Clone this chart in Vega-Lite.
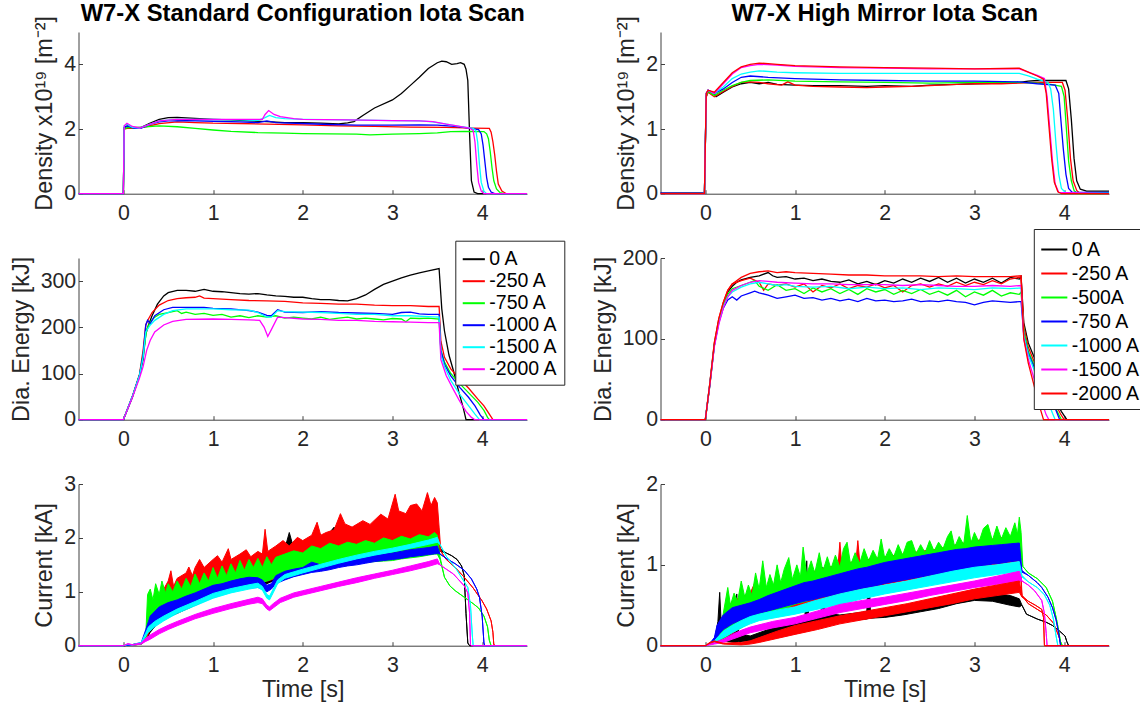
{
"$schema":"https://vega.github.io/schema/vega-lite/v6.json",
"background":"white",
"autosize":{"type":"none"},
"padding":{"left":78.5,"top":32,"right":1061.5,"bottom":681},
"config":{
 "font":"Liberation Sans",
 "view":{"stroke":null},
 "axis":{"domainColor":"#404040","tickColor":"#404040","labelColor":"#262626","titleColor":"#262626","labelFontSize":21.3,"titleFontSize":23.4,"titleFontWeight":"normal","grid":false,"tickSize":-4,"labelFont":"Liberation Sans","titleFont":"Liberation Sans","labelFlush":false,"format":"d"},
 "axisX":{"labelPadding":12.5,"titlePadding":3},
 "axisY":{"labelPadding":6.8,"titlePadding":7},
 "title":{"fontSize":23.8,"fontWeight":"bold","color":"#000000","font":"Liberation Sans","offset":-10,"baseline":"alphabetic","anchor":"middle","frame":"group"},
 "legend":{"orient":"none","title":null,"symbolType":"stroke","symbolSize":680,"symbolStrokeWidth":2,"labelFontSize":19.5,"labelColor":"#000000","labelFont":"Liberation Sans","strokeColor":"#262626","fillColor":"#ffffff","padding":6,"rowPadding":0,"labelOffset":3}
},
"columns":2,
"spacing":{"row":64,"column":133},
"bounds":"flush",
"resolve":{"scale":{"x":"independent","y":"independent","color":"independent","fill":"independent","stroke":"independent"},"legend":{"color":"independent","fill":"independent","stroke":"independent"}},
"datasets":{
"dl":[
{"s":"0 A","t":-0.5,"v":0},{"s":"0 A","t":0,"v":0},{"s":"0 A","t":0.01,"v":2.05},{"s":"0 A","t":0.05,"v":2.1},{"s":"0 A","t":0.12,"v":2.05},{"s":"0 A","t":0.2,"v":2.05},{"s":"0 A","t":0.3,"v":2.18},{"s":"0 A","t":0.4,"v":2.3},{"s":"0 A","t":0.5,"v":2.35},{"s":"0 A","t":0.6,"v":2.36},{"s":"0 A","t":0.8,"v":2.33},{"s":"0 A","t":1.0,"v":2.3},{"s":"0 A","t":1.2,"v":2.28},{"s":"0 A","t":1.4,"v":2.25},{"s":"0 A","t":1.6,"v":2.23},{"s":"0 A","t":1.8,"v":2.2},{"s":"0 A","t":2.0,"v":2.2},{"s":"0 A","t":2.2,"v":2.18},{"s":"0 A","t":2.4,"v":2.16},{"s":"0 A","t":2.5,"v":2.19},{"s":"0 A","t":2.57,"v":2.23},{"s":"0 A","t":2.67,"v":2.42},{"s":"0 A","t":2.8,"v":2.65},{"s":"0 A","t":3.0,"v":2.9},{"s":"0 A","t":3.1,"v":3.1},{"s":"0 A","t":3.2,"v":3.35},{"s":"0 A","t":3.3,"v":3.6},{"s":"0 A","t":3.4,"v":3.87},{"s":"0 A","t":3.5,"v":4.05},{"s":"0 A","t":3.55,"v":4.1},{"s":"0 A","t":3.6,"v":4.08},{"s":"0 A","t":3.66,"v":4.0},{"s":"0 A","t":3.72,"v":4.02},{"s":"0 A","t":3.76,"v":4.05},{"s":"0 A","t":3.8,"v":4.0},{"s":"0 A","t":3.82,"v":3.85},{"s":"0 A","t":3.84,"v":3.5},{"s":"0 A","t":3.86,"v":1.85},{"s":"0 A","t":3.88,"v":0.4},{"s":"0 A","t":3.91,"v":0.05},{"s":"0 A","t":3.95,"v":0},{"s":"0 A","t":4.5,"v":0},
{"s":"-250 A","t":-0.5,"v":0},{"s":"-250 A","t":0,"v":0},{"s":"-250 A","t":0.01,"v":2.0},{"s":"-250 A","t":0.05,"v":2.03},{"s":"-250 A","t":0.15,"v":2.02},{"s":"-250 A","t":0.25,"v":2.07},{"s":"-250 A","t":0.4,"v":2.17},{"s":"-250 A","t":0.6,"v":2.22},{"s":"-250 A","t":0.8,"v":2.2},{"s":"-250 A","t":1.0,"v":2.18},{"s":"-250 A","t":1.3,"v":2.17},{"s":"-250 A","t":1.6,"v":2.15},{"s":"-250 A","t":2.0,"v":2.13},{"s":"-250 A","t":2.4,"v":2.1},{"s":"-250 A","t":2.8,"v":2.08},{"s":"-250 A","t":3.2,"v":2.06},{"s":"-250 A","t":3.6,"v":2.05},{"s":"-250 A","t":3.9,"v":2.03},{"s":"-250 A","t":4.08,"v":2.02},{"s":"-250 A","t":4.1,"v":1.9},{"s":"-250 A","t":4.12,"v":1.6},{"s":"-250 A","t":4.14,"v":1.2},{"s":"-250 A","t":4.16,"v":0.7},{"s":"-250 A","t":4.18,"v":0.3},{"s":"-250 A","t":4.22,"v":0.08},{"s":"-250 A","t":4.27,"v":0},{"s":"-250 A","t":4.5,"v":0},
{"s":"-750 A","t":-0.5,"v":0},{"s":"-750 A","t":0,"v":0},{"s":"-750 A","t":0.01,"v":2.0},{"s":"-750 A","t":0.05,"v":2.05},{"s":"-750 A","t":0.15,"v":2.03},{"s":"-750 A","t":0.25,"v":2.07},{"s":"-750 A","t":0.4,"v":2.1},{"s":"-750 A","t":0.6,"v":2.07},{"s":"-750 A","t":0.8,"v":2.02},{"s":"-750 A","t":1.0,"v":1.97},{"s":"-750 A","t":1.2,"v":1.93},{"s":"-750 A","t":1.5,"v":1.89},{"s":"-750 A","t":1.8,"v":1.87},{"s":"-750 A","t":2.0,"v":1.86},{"s":"-750 A","t":2.3,"v":1.85},{"s":"-750 A","t":2.6,"v":1.84},{"s":"-750 A","t":2.75,"v":1.82},{"s":"-750 A","t":3.0,"v":1.84},{"s":"-750 A","t":3.3,"v":1.86},{"s":"-750 A","t":3.5,"v":1.88},{"s":"-750 A","t":3.65,"v":1.92},{"s":"-750 A","t":3.8,"v":1.93},{"s":"-750 A","t":4.02,"v":1.92},{"s":"-750 A","t":4.05,"v":1.85},{"s":"-750 A","t":4.07,"v":1.7},{"s":"-750 A","t":4.09,"v":1.3},{"s":"-750 A","t":4.11,"v":0.8},{"s":"-750 A","t":4.13,"v":0.4},{"s":"-750 A","t":4.16,"v":0.15},{"s":"-750 A","t":4.2,"v":0.03},{"s":"-750 A","t":4.25,"v":0},{"s":"-750 A","t":4.5,"v":0},
{"s":"-1000 A","t":-0.5,"v":0},{"s":"-1000 A","t":0,"v":0},{"s":"-1000 A","t":0.01,"v":2.05},{"s":"-1000 A","t":0.05,"v":2.1},{"s":"-1000 A","t":0.12,"v":2.02},{"s":"-1000 A","t":0.2,"v":2.03},{"s":"-1000 A","t":0.3,"v":2.15},{"s":"-1000 A","t":0.4,"v":2.22},{"s":"-1000 A","t":0.5,"v":2.25},{"s":"-1000 A","t":0.7,"v":2.26},{"s":"-1000 A","t":1.0,"v":2.24},{"s":"-1000 A","t":1.3,"v":2.22},{"s":"-1000 A","t":1.5,"v":2.2},{"s":"-1000 A","t":1.6,"v":2.25},{"s":"-1000 A","t":1.7,"v":2.2},{"s":"-1000 A","t":2.0,"v":2.17},{"s":"-1000 A","t":2.3,"v":2.14},{"s":"-1000 A","t":2.6,"v":2.12},{"s":"-1000 A","t":3.0,"v":2.12},{"s":"-1000 A","t":3.3,"v":2.13},{"s":"-1000 A","t":3.5,"v":2.12},{"s":"-1000 A","t":3.7,"v":2.08},{"s":"-1000 A","t":3.85,"v":2.03},{"s":"-1000 A","t":3.96,"v":1.98},{"s":"-1000 A","t":3.99,"v":1.85},{"s":"-1000 A","t":4.01,"v":1.5},{"s":"-1000 A","t":4.03,"v":1.0},{"s":"-1000 A","t":4.05,"v":0.5},{"s":"-1000 A","t":4.07,"v":0.2},{"s":"-1000 A","t":4.1,"v":0.05},{"s":"-1000 A","t":4.14,"v":0},{"s":"-1000 A","t":4.5,"v":0},
{"s":"-1500 A","t":-0.5,"v":0},{"s":"-1500 A","t":0,"v":0},{"s":"-1500 A","t":0.01,"v":2.1},{"s":"-1500 A","t":0.04,"v":2.15},{"s":"-1500 A","t":0.1,"v":2.05},{"s":"-1500 A","t":0.18,"v":2.03},{"s":"-1500 A","t":0.3,"v":2.15},{"s":"-1500 A","t":0.4,"v":2.25},{"s":"-1500 A","t":0.6,"v":2.3},{"s":"-1500 A","t":1.0,"v":2.3},{"s":"-1500 A","t":1.3,"v":2.28},{"s":"-1500 A","t":1.5,"v":2.27},{"s":"-1500 A","t":1.58,"v":2.35},{"s":"-1500 A","t":1.63,"v":2.42},{"s":"-1500 A","t":1.7,"v":2.35},{"s":"-1500 A","t":1.8,"v":2.32},{"s":"-1500 A","t":2.0,"v":2.3},{"s":"-1500 A","t":2.5,"v":2.28},{"s":"-1500 A","t":3.0,"v":2.26},{"s":"-1500 A","t":3.3,"v":2.25},{"s":"-1500 A","t":3.45,"v":2.22},{"s":"-1500 A","t":3.6,"v":2.15},{"s":"-1500 A","t":3.75,"v":2.08},{"s":"-1500 A","t":3.9,"v":2.02},{"s":"-1500 A","t":3.93,"v":1.95},{"s":"-1500 A","t":3.95,"v":1.6},{"s":"-1500 A","t":3.97,"v":0.9},{"s":"-1500 A","t":3.99,"v":0.35},{"s":"-1500 A","t":4.02,"v":0.08},{"s":"-1500 A","t":4.05,"v":0},{"s":"-1500 A","t":4.5,"v":0},
{"s":"-2000 A","t":-0.5,"v":0},{"s":"-2000 A","t":0,"v":0},{"s":"-2000 A","t":0.01,"v":2.1},{"s":"-2000 A","t":0.04,"v":2.18},{"s":"-2000 A","t":0.1,"v":2.08},{"s":"-2000 A","t":0.18,"v":2.03},{"s":"-2000 A","t":0.3,"v":2.15},{"s":"-2000 A","t":0.4,"v":2.25},{"s":"-2000 A","t":0.6,"v":2.3},{"s":"-2000 A","t":1.0,"v":2.3},{"s":"-2000 A","t":1.3,"v":2.3},{"s":"-2000 A","t":1.55,"v":2.3},{"s":"-2000 A","t":1.58,"v":2.45},{"s":"-2000 A","t":1.62,"v":2.57},{"s":"-2000 A","t":1.68,"v":2.45},{"s":"-2000 A","t":1.75,"v":2.38},{"s":"-2000 A","t":1.9,"v":2.32},{"s":"-2000 A","t":2.0,"v":2.3},{"s":"-2000 A","t":2.5,"v":2.28},{"s":"-2000 A","t":3.0,"v":2.26},{"s":"-2000 A","t":3.3,"v":2.25},{"s":"-2000 A","t":3.45,"v":2.23},{"s":"-2000 A","t":3.6,"v":2.15},{"s":"-2000 A","t":3.75,"v":2.08},{"s":"-2000 A","t":3.87,"v":2.02},{"s":"-2000 A","t":3.9,"v":1.95},{"s":"-2000 A","t":3.92,"v":1.6},{"s":"-2000 A","t":3.94,"v":0.9},{"s":"-2000 A","t":3.96,"v":0.35},{"s":"-2000 A","t":3.99,"v":0.08},{"s":"-2000 A","t":4.02,"v":0},{"s":"-2000 A","t":4.5,"v":0}
],
"dr":[
{"s":"0 A","t":-0.5,"v":0.01},{"s":"0 A","t":-0.01,"v":0.01},{"s":"0 A","t":0.01,"v":1.5},{"s":"0 A","t":0.03,"v":1.58},{"s":"0 A","t":0.08,"v":1.57},{"s":"0 A","t":0.12,"v":1.5},{"s":"0 A","t":0.2,"v":1.57},{"s":"0 A","t":0.3,"v":1.65},{"s":"0 A","t":0.4,"v":1.7},{"s":"0 A","t":0.5,"v":1.72},{"s":"0 A","t":0.6,"v":1.7},{"s":"0 A","t":0.7,"v":1.72},{"s":"0 A","t":0.8,"v":1.69},{"s":"0 A","t":1.0,"v":1.68},{"s":"0 A","t":1.2,"v":1.67},{"s":"0 A","t":1.5,"v":1.67},{"s":"0 A","t":1.8,"v":1.66},{"s":"0 A","t":2.0,"v":1.67},{"s":"0 A","t":2.3,"v":1.66},{"s":"0 A","t":2.5,"v":1.68},{"s":"0 A","t":2.8,"v":1.69},{"s":"0 A","t":3.0,"v":1.7},{"s":"0 A","t":3.3,"v":1.71},{"s":"0 A","t":3.5,"v":1.72},{"s":"0 A","t":3.6,"v":1.74},{"s":"0 A","t":3.7,"v":1.75},{"s":"0 A","t":4.02,"v":1.75},{"s":"0 A","t":4.05,"v":1.62},{"s":"0 A","t":4.08,"v":1.15},{"s":"0 A","t":4.11,"v":0.55},{"s":"0 A","t":4.14,"v":0.2},{"s":"0 A","t":4.18,"v":0.07},{"s":"0 A","t":4.25,"v":0.04},{"s":"0 A","t":4.5,"v":0.04},
{"s":"-250 A","t":-0.5,"v":0},{"s":"-250 A","t":-0.01,"v":0.01},{"s":"-250 A","t":0.01,"v":1.5},{"s":"-250 A","t":0.03,"v":1.57},{"s":"-250 A","t":0.1,"v":1.5},{"s":"-250 A","t":0.2,"v":1.58},{"s":"-250 A","t":0.3,"v":1.66},{"s":"-250 A","t":0.4,"v":1.72},{"s":"-250 A","t":0.5,"v":1.73},{"s":"-250 A","t":0.6,"v":1.72},{"s":"-250 A","t":0.7,"v":1.7},{"s":"-250 A","t":0.85,"v":1.68},{"s":"-250 A","t":0.92,"v":1.73},{"s":"-250 A","t":1.0,"v":1.68},{"s":"-250 A","t":1.2,"v":1.66},{"s":"-250 A","t":1.5,"v":1.65},{"s":"-250 A","t":1.8,"v":1.64},{"s":"-250 A","t":2.0,"v":1.65},{"s":"-250 A","t":2.3,"v":1.66},{"s":"-250 A","t":2.5,"v":1.67},{"s":"-250 A","t":2.8,"v":1.69},{"s":"-250 A","t":3.0,"v":1.7},{"s":"-250 A","t":3.3,"v":1.7},{"s":"-250 A","t":3.5,"v":1.71},{"s":"-250 A","t":3.7,"v":1.72},{"s":"-250 A","t":3.98,"v":1.72},{"s":"-250 A","t":4.01,"v":1.6},{"s":"-250 A","t":4.04,"v":1.15},{"s":"-250 A","t":4.07,"v":0.55},{"s":"-250 A","t":4.1,"v":0.2},{"s":"-250 A","t":4.14,"v":0.05},{"s":"-250 A","t":4.18,"v":0},{"s":"-250 A","t":4.5,"v":0},
{"s":"-500A","t":-0.5,"v":0},{"s":"-500A","t":-0.01,"v":0.01},{"s":"-500A","t":0.01,"v":1.52},{"s":"-500A","t":0.03,"v":1.58},{"s":"-500A","t":0.1,"v":1.52},{"s":"-500A","t":0.2,"v":1.6},{"s":"-500A","t":0.3,"v":1.67},{"s":"-500A","t":0.4,"v":1.72},{"s":"-500A","t":0.5,"v":1.75},{"s":"-500A","t":0.7,"v":1.76},{"s":"-500A","t":1.0,"v":1.74},{"s":"-500A","t":1.5,"v":1.73},{"s":"-500A","t":2.0,"v":1.72},{"s":"-500A","t":2.5,"v":1.71},{"s":"-500A","t":3.0,"v":1.72},{"s":"-500A","t":3.5,"v":1.72},{"s":"-500A","t":3.7,"v":1.71},{"s":"-500A","t":3.85,"v":1.69},{"s":"-500A","t":3.97,"v":1.66},{"s":"-500A","t":4.0,"v":1.5},{"s":"-500A","t":4.02,"v":1.1},{"s":"-500A","t":4.05,"v":0.5},{"s":"-500A","t":4.08,"v":0.2},{"s":"-500A","t":4.11,"v":0.05},{"s":"-500A","t":4.15,"v":0},{"s":"-500A","t":4.5,"v":0},
{"s":"-750 A","t":-0.5,"v":0.01},{"s":"-750 A","t":-0.01,"v":0.01},{"s":"-750 A","t":0.01,"v":1.55},{"s":"-750 A","t":0.03,"v":1.6},{"s":"-750 A","t":0.1,"v":1.55},{"s":"-750 A","t":0.2,"v":1.62},{"s":"-750 A","t":0.3,"v":1.72},{"s":"-750 A","t":0.4,"v":1.8},{"s":"-750 A","t":0.5,"v":1.82},{"s":"-750 A","t":0.7,"v":1.8},{"s":"-750 A","t":1.0,"v":1.78},{"s":"-750 A","t":1.5,"v":1.76},{"s":"-750 A","t":2.0,"v":1.75},{"s":"-750 A","t":2.5,"v":1.74},{"s":"-750 A","t":3.0,"v":1.74},{"s":"-750 A","t":3.5,"v":1.73},{"s":"-750 A","t":3.7,"v":1.7},{"s":"-750 A","t":3.9,"v":1.68},{"s":"-750 A","t":3.94,"v":1.55},{"s":"-750 A","t":3.96,"v":1.2},{"s":"-750 A","t":3.99,"v":0.7},{"s":"-750 A","t":4.02,"v":0.3},{"s":"-750 A","t":4.05,"v":0.08},{"s":"-750 A","t":4.09,"v":0.02},{"s":"-750 A","t":4.5,"v":0.02},
{"s":"-1000 A","t":-0.5,"v":0},{"s":"-1000 A","t":-0.01,"v":0},{"s":"-1000 A","t":0.01,"v":1.55},{"s":"-1000 A","t":0.03,"v":1.6},{"s":"-1000 A","t":0.1,"v":1.55},{"s":"-1000 A","t":0.2,"v":1.65},{"s":"-1000 A","t":0.3,"v":1.78},{"s":"-1000 A","t":0.4,"v":1.85},{"s":"-1000 A","t":0.5,"v":1.88},{"s":"-1000 A","t":0.6,"v":1.9},{"s":"-1000 A","t":0.8,"v":1.88},{"s":"-1000 A","t":1.0,"v":1.87},{"s":"-1000 A","t":1.5,"v":1.86},{"s":"-1000 A","t":2.0,"v":1.86},{"s":"-1000 A","t":2.5,"v":1.86},{"s":"-1000 A","t":3.0,"v":1.86},{"s":"-1000 A","t":3.5,"v":1.86},{"s":"-1000 A","t":3.6,"v":1.82},{"s":"-1000 A","t":3.7,"v":1.77},{"s":"-1000 A","t":3.82,"v":1.72},{"s":"-1000 A","t":3.85,"v":1.62},{"s":"-1000 A","t":3.88,"v":1.3},{"s":"-1000 A","t":3.91,"v":0.75},{"s":"-1000 A","t":3.94,"v":0.3},{"s":"-1000 A","t":3.97,"v":0.08},{"s":"-1000 A","t":4.02,"v":0.01},{"s":"-1000 A","t":4.5,"v":0.01},
{"s":"-1500 A","t":-0.5,"v":0},{"s":"-1500 A","t":-0.01,"v":0},{"s":"-1500 A","t":0.01,"v":1.55},{"s":"-1500 A","t":0.03,"v":1.6},{"s":"-1500 A","t":0.1,"v":1.55},{"s":"-1500 A","t":0.2,"v":1.7},{"s":"-1500 A","t":0.3,"v":1.85},{"s":"-1500 A","t":0.4,"v":1.95},{"s":"-1500 A","t":0.5,"v":1.98},{"s":"-1500 A","t":0.6,"v":2.0},{"s":"-1500 A","t":0.8,"v":1.99},{"s":"-1500 A","t":1.0,"v":1.97},{"s":"-1500 A","t":1.5,"v":1.95},{"s":"-1500 A","t":2.0,"v":1.94},{"s":"-1500 A","t":2.5,"v":1.93},{"s":"-1500 A","t":3.0,"v":1.93},{"s":"-1500 A","t":3.5,"v":1.93},{"s":"-1500 A","t":3.6,"v":1.88},{"s":"-1500 A","t":3.7,"v":1.83},{"s":"-1500 A","t":3.78,"v":1.78},{"s":"-1500 A","t":3.81,"v":1.5},{"s":"-1500 A","t":3.84,"v":1.0},{"s":"-1500 A","t":3.87,"v":0.5},{"s":"-1500 A","t":3.9,"v":0.15},{"s":"-1500 A","t":3.94,"v":0.02},{"s":"-1500 A","t":4.5,"v":0},
{"s":"-2000 A","t":-0.5,"v":0},{"s":"-2000 A","t":-0.01,"v":0},{"s":"-2000 A","t":0.01,"v":1.55},{"s":"-2000 A","t":0.03,"v":1.6},{"s":"-2000 A","t":0.1,"v":1.57},{"s":"-2000 A","t":0.2,"v":1.72},{"s":"-2000 A","t":0.3,"v":1.87},{"s":"-2000 A","t":0.4,"v":1.96},{"s":"-2000 A","t":0.5,"v":2.0},{"s":"-2000 A","t":0.6,"v":2.02},{"s":"-2000 A","t":0.7,"v":2.01},{"s":"-2000 A","t":0.8,"v":2.0},{"s":"-2000 A","t":1.0,"v":1.98},{"s":"-2000 A","t":1.5,"v":1.96},{"s":"-2000 A","t":2.0,"v":1.95},{"s":"-2000 A","t":2.5,"v":1.94},{"s":"-2000 A","t":3.0,"v":1.93},{"s":"-2000 A","t":3.5,"v":1.94},{"s":"-2000 A","t":3.6,"v":1.88},{"s":"-2000 A","t":3.7,"v":1.82},{"s":"-2000 A","t":3.77,"v":1.77},{"s":"-2000 A","t":3.8,"v":1.55},{"s":"-2000 A","t":3.83,"v":1.05},{"s":"-2000 A","t":3.86,"v":0.55},{"s":"-2000 A","t":3.89,"v":0.18},{"s":"-2000 A","t":3.93,"v":0.03},{"s":"-2000 A","t":3.97,"v":0},{"s":"-2000 A","t":4.5,"v":0}
],
"el":[
{"s":"0 A","t":-0.5,"v":0},{"s":"0 A","t":0,"v":0},{"s":"0 A","t":0.1,"v":48},{"s":"0 A","t":0.18,"v":95},{"s":"0 A","t":0.22,"v":130},{"s":"0 A","t":0.25,"v":185},{"s":"0 A","t":0.28,"v":205},{"s":"0 A","t":0.32,"v":225},{"s":"0 A","t":0.38,"v":250},{"s":"0 A","t":0.45,"v":268},{"s":"0 A","t":0.5,"v":275},{"s":"0 A","t":0.6,"v":280},{"s":"0 A","t":0.7,"v":280},{"s":"0 A","t":0.8,"v":278},{"s":"0 A","t":0.9,"v":282},{"s":"0 A","t":1.0,"v":278},{"s":"0 A","t":1.1,"v":277},{"s":"0 A","t":1.2,"v":275},{"s":"0 A","t":1.3,"v":273},{"s":"0 A","t":1.4,"v":272},{"s":"0 A","t":1.5,"v":273},{"s":"0 A","t":1.6,"v":270},{"s":"0 A","t":1.7,"v":268},{"s":"0 A","t":1.8,"v":267},{"s":"0 A","t":1.9,"v":265},{"s":"0 A","t":2.0,"v":265},{"s":"0 A","t":2.1,"v":262},{"s":"0 A","t":2.2,"v":260},{"s":"0 A","t":2.3,"v":260},{"s":"0 A","t":2.4,"v":258},{"s":"0 A","t":2.5,"v":257},{"s":"0 A","t":2.6,"v":262},{"s":"0 A","t":2.7,"v":270},{"s":"0 A","t":2.8,"v":282},{"s":"0 A","t":2.9,"v":293},{"s":"0 A","t":3.0,"v":300},{"s":"0 A","t":3.1,"v":307},{"s":"0 A","t":3.2,"v":313},{"s":"0 A","t":3.3,"v":318},{"s":"0 A","t":3.4,"v":322},{"s":"0 A","t":3.52,"v":327},{"s":"0 A","t":3.55,"v":240},{"s":"0 A","t":3.58,"v":192},{"s":"0 A","t":3.63,"v":140},{"s":"0 A","t":3.68,"v":106},{"s":"0 A","t":3.74,"v":60},{"s":"0 A","t":3.79,"v":25},{"s":"0 A","t":3.82,"v":0},{"s":"0 A","t":4.5,"v":0},
{"s":"-250 A","t":-0.5,"v":0},{"s":"-250 A","t":0,"v":0},{"s":"-250 A","t":0.1,"v":50},{"s":"-250 A","t":0.18,"v":98},{"s":"-250 A","t":0.22,"v":150},{"s":"-250 A","t":0.25,"v":205},{"s":"-250 A","t":0.28,"v":218},{"s":"-250 A","t":0.32,"v":232},{"s":"-250 A","t":0.4,"v":248},{"s":"-250 A","t":0.5,"v":258},{"s":"-250 A","t":0.6,"v":262},{"s":"-250 A","t":0.7,"v":264},{"s":"-250 A","t":0.8,"v":265},{"s":"-250 A","t":0.85,"v":268},{"s":"-250 A","t":0.9,"v":263},{"s":"-250 A","t":1.0,"v":262},{"s":"-250 A","t":1.2,"v":260},{"s":"-250 A","t":1.4,"v":258},{"s":"-250 A","t":1.6,"v":257},{"s":"-250 A","t":1.8,"v":256},{"s":"-250 A","t":2.0,"v":253},{"s":"-250 A","t":2.2,"v":252},{"s":"-250 A","t":2.4,"v":250},{"s":"-250 A","t":2.6,"v":250},{"s":"-250 A","t":2.8,"v":248},{"s":"-250 A","t":3.0,"v":247},{"s":"-250 A","t":3.2,"v":247},{"s":"-250 A","t":3.4,"v":245},{"s":"-250 A","t":3.52,"v":245},{"s":"-250 A","t":3.54,"v":170},{"s":"-250 A","t":3.58,"v":135},{"s":"-250 A","t":3.65,"v":110},{"s":"-250 A","t":3.75,"v":88},{"s":"-250 A","t":3.85,"v":68},{"s":"-250 A","t":3.95,"v":45},{"s":"-250 A","t":4.02,"v":30},{"s":"-250 A","t":4.08,"v":12},{"s":"-250 A","t":4.12,"v":0},{"s":"-250 A","t":4.5,"v":0},
{"s":"-750 A","t":-0.5,"v":0},{"s":"-750 A","t":0,"v":0},{"s":"-750 A","t":0.1,"v":50},{"s":"-750 A","t":0.18,"v":97},{"s":"-750 A","t":0.22,"v":140},{"s":"-750 A","t":0.26,"v":195},{"s":"-750 A","t":0.3,"v":212},{"s":"-750 A","t":0.35,"v":222},{"s":"-750 A","t":0.4,"v":228},{"s":"-750 A","t":0.5,"v":232},{"s":"-750 A","t":0.6,"v":236},{"s":"-750 A","t":0.65,"v":230},{"s":"-750 A","t":0.7,"v":233},{"s":"-750 A","t":0.8,"v":228},{"s":"-750 A","t":0.9,"v":230},{"s":"-750 A","t":1.0,"v":226},{"s":"-750 A","t":1.1,"v":228},{"s":"-750 A","t":1.2,"v":222},{"s":"-750 A","t":1.3,"v":225},{"s":"-750 A","t":1.4,"v":221},{"s":"-750 A","t":1.5,"v":225},{"s":"-750 A","t":1.6,"v":222},{"s":"-750 A","t":1.7,"v":225},{"s":"-750 A","t":1.8,"v":220},{"s":"-750 A","t":1.9,"v":222},{"s":"-750 A","t":2.0,"v":220},{"s":"-750 A","t":2.1,"v":218},{"s":"-750 A","t":2.2,"v":222},{"s":"-750 A","t":2.3,"v":217},{"s":"-750 A","t":2.4,"v":220},{"s":"-750 A","t":2.5,"v":222},{"s":"-750 A","t":2.6,"v":218},{"s":"-750 A","t":2.7,"v":220},{"s":"-750 A","t":2.8,"v":218},{"s":"-750 A","t":2.9,"v":216},{"s":"-750 A","t":3.0,"v":219},{"s":"-750 A","t":3.1,"v":218},{"s":"-750 A","t":3.15,"v":212},{"s":"-750 A","t":3.2,"v":220},{"s":"-750 A","t":3.3,"v":219},{"s":"-750 A","t":3.4,"v":220},{"s":"-750 A","t":3.52,"v":218},{"s":"-750 A","t":3.54,"v":150},{"s":"-750 A","t":3.58,"v":125},{"s":"-750 A","t":3.65,"v":100},{"s":"-750 A","t":3.75,"v":78},{"s":"-750 A","t":3.85,"v":58},{"s":"-750 A","t":3.95,"v":38},{"s":"-750 A","t":4.02,"v":20},{"s":"-750 A","t":4.06,"v":5},{"s":"-750 A","t":4.08,"v":0},{"s":"-750 A","t":4.5,"v":0},
{"s":"-1000 A","t":-0.5,"v":0},{"s":"-1000 A","t":0,"v":0},{"s":"-1000 A","t":0.1,"v":50},{"s":"-1000 A","t":0.18,"v":97},{"s":"-1000 A","t":0.22,"v":140},{"s":"-1000 A","t":0.25,"v":205},{"s":"-1000 A","t":0.27,"v":215},{"s":"-1000 A","t":0.3,"v":208},{"s":"-1000 A","t":0.35,"v":225},{"s":"-1000 A","t":0.45,"v":238},{"s":"-1000 A","t":0.55,"v":243},{"s":"-1000 A","t":0.7,"v":243},{"s":"-1000 A","t":0.9,"v":243},{"s":"-1000 A","t":1.0,"v":241},{"s":"-1000 A","t":1.2,"v":240},{"s":"-1000 A","t":1.4,"v":236},{"s":"-1000 A","t":1.5,"v":233},{"s":"-1000 A","t":1.6,"v":226},{"s":"-1000 A","t":1.65,"v":225},{"s":"-1000 A","t":1.72,"v":238},{"s":"-1000 A","t":1.8,"v":233},{"s":"-1000 A","t":2.0,"v":232},{"s":"-1000 A","t":2.2,"v":234},{"s":"-1000 A","t":2.4,"v":232},{"s":"-1000 A","t":2.6,"v":231},{"s":"-1000 A","t":2.8,"v":230},{"s":"-1000 A","t":3.0,"v":228},{"s":"-1000 A","t":3.1,"v":232},{"s":"-1000 A","t":3.2,"v":233},{"s":"-1000 A","t":3.3,"v":229},{"s":"-1000 A","t":3.4,"v":228},{"s":"-1000 A","t":3.52,"v":228},{"s":"-1000 A","t":3.54,"v":150},{"s":"-1000 A","t":3.58,"v":120},{"s":"-1000 A","t":3.65,"v":95},{"s":"-1000 A","t":3.75,"v":70},{"s":"-1000 A","t":3.85,"v":48},{"s":"-1000 A","t":3.92,"v":30},{"s":"-1000 A","t":3.98,"v":10},{"s":"-1000 A","t":4.02,"v":0},{"s":"-1000 A","t":4.5,"v":0},
{"s":"-1500 A","t":-0.5,"v":0},{"s":"-1500 A","t":0,"v":0},{"s":"-1500 A","t":0.1,"v":50},{"s":"-1500 A","t":0.18,"v":96},{"s":"-1500 A","t":0.22,"v":135},{"s":"-1500 A","t":0.25,"v":190},{"s":"-1500 A","t":0.3,"v":205},{"s":"-1500 A","t":0.35,"v":215},{"s":"-1500 A","t":0.45,"v":228},{"s":"-1500 A","t":0.55,"v":236},{"s":"-1500 A","t":0.7,"v":240},{"s":"-1500 A","t":1.0,"v":240},{"s":"-1500 A","t":1.2,"v":238},{"s":"-1500 A","t":1.4,"v":237},{"s":"-1500 A","t":1.5,"v":232},{"s":"-1500 A","t":1.6,"v":222},{"s":"-1500 A","t":1.65,"v":222},{"s":"-1500 A","t":1.72,"v":236},{"s":"-1500 A","t":1.8,"v":234},{"s":"-1500 A","t":2.0,"v":233},{"s":"-1500 A","t":2.2,"v":232},{"s":"-1500 A","t":2.4,"v":230},{"s":"-1500 A","t":2.6,"v":228},{"s":"-1500 A","t":2.8,"v":228},{"s":"-1500 A","t":3.0,"v":225},{"s":"-1500 A","t":3.2,"v":225},{"s":"-1500 A","t":3.4,"v":223},{"s":"-1500 A","t":3.52,"v":222},{"s":"-1500 A","t":3.54,"v":140},{"s":"-1500 A","t":3.58,"v":115},{"s":"-1500 A","t":3.65,"v":85},{"s":"-1500 A","t":3.75,"v":55},{"s":"-1500 A","t":3.85,"v":30},{"s":"-1500 A","t":3.92,"v":12},{"s":"-1500 A","t":3.97,"v":0},{"s":"-1500 A","t":4.5,"v":0},
{"s":"-2000 A","t":-0.5,"v":0},{"s":"-2000 A","t":0,"v":0},{"s":"-2000 A","t":0.1,"v":48},{"s":"-2000 A","t":0.18,"v":90},{"s":"-2000 A","t":0.22,"v":115},{"s":"-2000 A","t":0.26,"v":150},{"s":"-2000 A","t":0.3,"v":172},{"s":"-2000 A","t":0.35,"v":190},{"s":"-2000 A","t":0.45,"v":205},{"s":"-2000 A","t":0.55,"v":213},{"s":"-2000 A","t":0.7,"v":217},{"s":"-2000 A","t":1.0,"v":218},{"s":"-2000 A","t":1.2,"v":217},{"s":"-2000 A","t":1.4,"v":216},{"s":"-2000 A","t":1.52,"v":215},{"s":"-2000 A","t":1.57,"v":200},{"s":"-2000 A","t":1.61,"v":180},{"s":"-2000 A","t":1.65,"v":195},{"s":"-2000 A","t":1.72,"v":222},{"s":"-2000 A","t":1.8,"v":221},{"s":"-2000 A","t":2.0,"v":218},{"s":"-2000 A","t":2.2,"v":217},{"s":"-2000 A","t":2.4,"v":215},{"s":"-2000 A","t":2.6,"v":215},{"s":"-2000 A","t":2.8,"v":213},{"s":"-2000 A","t":3.0,"v":212},{"s":"-2000 A","t":3.2,"v":211},{"s":"-2000 A","t":3.4,"v":210},{"s":"-2000 A","t":3.52,"v":210},{"s":"-2000 A","t":3.54,"v":130},{"s":"-2000 A","t":3.6,"v":95},{"s":"-2000 A","t":3.68,"v":65},{"s":"-2000 A","t":3.75,"v":40},{"s":"-2000 A","t":3.82,"v":18},{"s":"-2000 A","t":3.88,"v":5},{"s":"-2000 A","t":3.92,"v":0},{"s":"-2000 A","t":4.5,"v":0}
],
"er":[
{"s":"0 A","t":-0.5,"v":0},{"s":"0 A","t":0,"v":0},{"s":"0 A","t":0.05,"v":42},{"s":"0 A","t":0.1,"v":92},{"s":"0 A","t":0.15,"v":122},{"s":"0 A","t":0.2,"v":140},{"s":"0 A","t":0.25,"v":158},{"s":"0 A","t":0.3,"v":165},{"s":"0 A","t":0.35,"v":170},{"s":"0 A","t":0.4,"v":173},{"s":"0 A","t":0.5,"v":176},{"s":"0 A","t":0.6,"v":178},{"s":"0 A","t":0.7,"v":182},{"s":"0 A","t":0.75,"v":178},{"s":"0 A","t":0.8,"v":176},{"s":"0 A","t":0.9,"v":177},{"s":"0 A","t":1.0,"v":174},{"s":"0 A","t":1.1,"v":175},{"s":"0 A","t":1.2,"v":172},{"s":"0 A","t":1.3,"v":174},{"s":"0 A","t":1.4,"v":171},{"s":"0 A","t":1.5,"v":170},{"s":"0 A","t":1.6,"v":173},{"s":"0 A","t":1.7,"v":168},{"s":"0 A","t":1.8,"v":171},{"s":"0 A","t":1.9,"v":167},{"s":"0 A","t":2.0,"v":172},{"s":"0 A","t":2.1,"v":169},{"s":"0 A","t":2.2,"v":174},{"s":"0 A","t":2.3,"v":170},{"s":"0 A","t":2.4,"v":175},{"s":"0 A","t":2.5,"v":171},{"s":"0 A","t":2.6,"v":176},{"s":"0 A","t":2.7,"v":170},{"s":"0 A","t":2.8,"v":175},{"s":"0 A","t":2.9,"v":169},{"s":"0 A","t":3.0,"v":174},{"s":"0 A","t":3.1,"v":170},{"s":"0 A","t":3.2,"v":175},{"s":"0 A","t":3.3,"v":169},{"s":"0 A","t":3.4,"v":176},{"s":"0 A","t":3.5,"v":174},{"s":"0 A","t":3.52,"v":177},{"s":"0 A","t":3.55,"v":120},{"s":"0 A","t":3.6,"v":95},{"s":"0 A","t":3.7,"v":68},{"s":"0 A","t":3.8,"v":45},{"s":"0 A","t":3.9,"v":25},{"s":"0 A","t":3.97,"v":10},{"s":"0 A","t":4.03,"v":0},{"s":"0 A","t":4.5,"v":0},
{"s":"-250 A","t":-0.5,"v":0},{"s":"-250 A","t":0,"v":0},{"s":"-250 A","t":0.05,"v":45},{"s":"-250 A","t":0.1,"v":95},{"s":"-250 A","t":0.15,"v":125},{"s":"-250 A","t":0.2,"v":145},{"s":"-250 A","t":0.25,"v":160},{"s":"-250 A","t":0.3,"v":168},{"s":"-250 A","t":0.4,"v":172},{"s":"-250 A","t":0.5,"v":175},{"s":"-250 A","t":0.6,"v":170},{"s":"-250 A","t":0.65,"v":160},{"s":"-250 A","t":0.7,"v":168},{"s":"-250 A","t":0.8,"v":166},{"s":"-250 A","t":0.9,"v":168},{"s":"-250 A","t":1.0,"v":164},{"s":"-250 A","t":1.1,"v":168},{"s":"-250 A","t":1.2,"v":158},{"s":"-250 A","t":1.3,"v":166},{"s":"-250 A","t":1.4,"v":163},{"s":"-250 A","t":1.5,"v":168},{"s":"-250 A","t":1.6,"v":162},{"s":"-250 A","t":1.7,"v":166},{"s":"-250 A","t":1.8,"v":164},{"s":"-250 A","t":1.9,"v":168},{"s":"-250 A","t":2.0,"v":163},{"s":"-250 A","t":2.1,"v":166},{"s":"-250 A","t":2.2,"v":158},{"s":"-250 A","t":2.3,"v":166},{"s":"-250 A","t":2.4,"v":168},{"s":"-250 A","t":2.5,"v":164},{"s":"-250 A","t":2.6,"v":168},{"s":"-250 A","t":2.7,"v":165},{"s":"-250 A","t":2.8,"v":170},{"s":"-250 A","t":2.9,"v":166},{"s":"-250 A","t":3.0,"v":170},{"s":"-250 A","t":3.1,"v":167},{"s":"-250 A","t":3.2,"v":172},{"s":"-250 A","t":3.3,"v":168},{"s":"-250 A","t":3.4,"v":174},{"s":"-250 A","t":3.5,"v":176},{"s":"-250 A","t":3.52,"v":175},{"s":"-250 A","t":3.55,"v":115},{"s":"-250 A","t":3.6,"v":90},{"s":"-250 A","t":3.7,"v":62},{"s":"-250 A","t":3.8,"v":40},{"s":"-250 A","t":3.9,"v":20},{"s":"-250 A","t":3.96,"v":7},{"s":"-250 A","t":4.0,"v":0},{"s":"-250 A","t":4.5,"v":0},
{"s":"-500A","t":-0.5,"v":0},{"s":"-500A","t":0,"v":0},{"s":"-500A","t":0.05,"v":44},{"s":"-500A","t":0.1,"v":93},{"s":"-500A","t":0.15,"v":122},{"s":"-500A","t":0.2,"v":142},{"s":"-500A","t":0.25,"v":155},{"s":"-500A","t":0.3,"v":162},{"s":"-500A","t":0.4,"v":166},{"s":"-500A","t":0.5,"v":170},{"s":"-500A","t":0.55,"v":172},{"s":"-500A","t":0.6,"v":165},{"s":"-500A","t":0.7,"v":160},{"s":"-500A","t":0.8,"v":167},{"s":"-500A","t":0.9,"v":160},{"s":"-500A","t":1.0,"v":162},{"s":"-500A","t":1.1,"v":156},{"s":"-500A","t":1.2,"v":163},{"s":"-500A","t":1.3,"v":158},{"s":"-500A","t":1.4,"v":162},{"s":"-500A","t":1.5,"v":156},{"s":"-500A","t":1.6,"v":161},{"s":"-500A","t":1.7,"v":155},{"s":"-500A","t":1.8,"v":162},{"s":"-500A","t":1.9,"v":158},{"s":"-500A","t":2.0,"v":161},{"s":"-500A","t":2.1,"v":155},{"s":"-500A","t":2.2,"v":160},{"s":"-500A","t":2.3,"v":156},{"s":"-500A","t":2.4,"v":161},{"s":"-500A","t":2.5,"v":155},{"s":"-500A","t":2.6,"v":159},{"s":"-500A","t":2.7,"v":154},{"s":"-500A","t":2.8,"v":160},{"s":"-500A","t":2.9,"v":152},{"s":"-500A","t":3.0,"v":158},{"s":"-500A","t":3.1,"v":154},{"s":"-500A","t":3.2,"v":160},{"s":"-500A","t":3.3,"v":153},{"s":"-500A","t":3.4,"v":157},{"s":"-500A","t":3.5,"v":155},{"s":"-500A","t":3.52,"v":158},{"s":"-500A","t":3.55,"v":110},{"s":"-500A","t":3.6,"v":85},{"s":"-500A","t":3.7,"v":58},{"s":"-500A","t":3.8,"v":36},{"s":"-500A","t":3.9,"v":15},{"s":"-500A","t":3.97,"v":0},{"s":"-500A","t":4.5,"v":0},
{"s":"-750 A","t":-0.5,"v":0},{"s":"-750 A","t":0,"v":0},{"s":"-750 A","t":0.05,"v":44},{"s":"-750 A","t":0.1,"v":92},{"s":"-750 A","t":0.15,"v":120},{"s":"-750 A","t":0.2,"v":138},{"s":"-750 A","t":0.25,"v":148},{"s":"-750 A","t":0.3,"v":152},{"s":"-750 A","t":0.35,"v":148},{"s":"-750 A","t":0.4,"v":153},{"s":"-750 A","t":0.5,"v":157},{"s":"-750 A","t":0.55,"v":159},{"s":"-750 A","t":0.6,"v":157},{"s":"-750 A","t":0.7,"v":154},{"s":"-750 A","t":0.8,"v":150},{"s":"-750 A","t":0.9,"v":152},{"s":"-750 A","t":1.0,"v":154},{"s":"-750 A","t":1.1,"v":150},{"s":"-750 A","t":1.2,"v":151},{"s":"-750 A","t":1.3,"v":148},{"s":"-750 A","t":1.4,"v":150},{"s":"-750 A","t":1.5,"v":147},{"s":"-750 A","t":1.6,"v":149},{"s":"-750 A","t":1.7,"v":146},{"s":"-750 A","t":1.8,"v":150},{"s":"-750 A","t":1.9,"v":147},{"s":"-750 A","t":2.0,"v":148},{"s":"-750 A","t":2.1,"v":146},{"s":"-750 A","t":2.2,"v":147},{"s":"-750 A","t":2.3,"v":149},{"s":"-750 A","t":2.4,"v":146},{"s":"-750 A","t":2.5,"v":147},{"s":"-750 A","t":2.6,"v":146},{"s":"-750 A","t":2.7,"v":148},{"s":"-750 A","t":2.8,"v":146},{"s":"-750 A","t":2.9,"v":145},{"s":"-750 A","t":3.0,"v":142},{"s":"-750 A","t":3.1,"v":145},{"s":"-750 A","t":3.2,"v":147},{"s":"-750 A","t":3.3,"v":146},{"s":"-750 A","t":3.4,"v":145},{"s":"-750 A","t":3.5,"v":146},{"s":"-750 A","t":3.52,"v":146},{"s":"-750 A","t":3.55,"v":105},{"s":"-750 A","t":3.6,"v":82},{"s":"-750 A","t":3.7,"v":56},{"s":"-750 A","t":3.8,"v":34},{"s":"-750 A","t":3.9,"v":14},{"s":"-750 A","t":3.95,"v":0},{"s":"-750 A","t":4.5,"v":0},
{"s":"-1000 A","t":-0.5,"v":0},{"s":"-1000 A","t":0,"v":0},{"s":"-1000 A","t":0.05,"v":44},{"s":"-1000 A","t":0.1,"v":92},{"s":"-1000 A","t":0.15,"v":120},{"s":"-1000 A","t":0.2,"v":140},{"s":"-1000 A","t":0.25,"v":152},{"s":"-1000 A","t":0.3,"v":158},{"s":"-1000 A","t":0.4,"v":164},{"s":"-1000 A","t":0.5,"v":168},{"s":"-1000 A","t":0.6,"v":170},{"s":"-1000 A","t":0.7,"v":168},{"s":"-1000 A","t":0.8,"v":166},{"s":"-1000 A","t":0.9,"v":167},{"s":"-1000 A","t":1.0,"v":165},{"s":"-1000 A","t":1.2,"v":164},{"s":"-1000 A","t":1.4,"v":165},{"s":"-1000 A","t":1.6,"v":162},{"s":"-1000 A","t":1.8,"v":164},{"s":"-1000 A","t":2.0,"v":162},{"s":"-1000 A","t":2.2,"v":163},{"s":"-1000 A","t":2.4,"v":161},{"s":"-1000 A","t":2.6,"v":163},{"s":"-1000 A","t":2.8,"v":162},{"s":"-1000 A","t":3.0,"v":161},{"s":"-1000 A","t":3.2,"v":163},{"s":"-1000 A","t":3.4,"v":162},{"s":"-1000 A","t":3.52,"v":163},{"s":"-1000 A","t":3.55,"v":105},{"s":"-1000 A","t":3.6,"v":80},{"s":"-1000 A","t":3.7,"v":52},{"s":"-1000 A","t":3.8,"v":28},{"s":"-1000 A","t":3.87,"v":8},{"s":"-1000 A","t":3.9,"v":0},{"s":"-1000 A","t":4.5,"v":0},
{"s":"-1500 A","t":-0.5,"v":0},{"s":"-1500 A","t":0,"v":0},{"s":"-1500 A","t":0.05,"v":43},{"s":"-1500 A","t":0.1,"v":90},{"s":"-1500 A","t":0.15,"v":118},{"s":"-1500 A","t":0.2,"v":138},{"s":"-1500 A","t":0.25,"v":152},{"s":"-1500 A","t":0.3,"v":160},{"s":"-1500 A","t":0.4,"v":166},{"s":"-1500 A","t":0.5,"v":170},{"s":"-1500 A","t":0.6,"v":172},{"s":"-1500 A","t":0.7,"v":171},{"s":"-1500 A","t":0.8,"v":170},{"s":"-1500 A","t":1.0,"v":169},{"s":"-1500 A","t":1.2,"v":168},{"s":"-1500 A","t":1.4,"v":168},{"s":"-1500 A","t":1.6,"v":167},{"s":"-1500 A","t":1.8,"v":167},{"s":"-1500 A","t":2.0,"v":167},{"s":"-1500 A","t":2.2,"v":166},{"s":"-1500 A","t":2.4,"v":167},{"s":"-1500 A","t":2.6,"v":166},{"s":"-1500 A","t":2.8,"v":165},{"s":"-1500 A","t":3.0,"v":165},{"s":"-1500 A","t":3.2,"v":166},{"s":"-1500 A","t":3.4,"v":165},{"s":"-1500 A","t":3.52,"v":166},{"s":"-1500 A","t":3.55,"v":100},{"s":"-1500 A","t":3.6,"v":75},{"s":"-1500 A","t":3.68,"v":45},{"s":"-1500 A","t":3.75,"v":22},{"s":"-1500 A","t":3.8,"v":6},{"s":"-1500 A","t":3.83,"v":0},{"s":"-1500 A","t":4.5,"v":0},
{"s":"-2000 A","t":-0.5,"v":0},{"s":"-2000 A","t":0,"v":0},{"s":"-2000 A","t":0.05,"v":45},{"s":"-2000 A","t":0.1,"v":95},{"s":"-2000 A","t":0.15,"v":125},{"s":"-2000 A","t":0.2,"v":145},{"s":"-2000 A","t":0.25,"v":160},{"s":"-2000 A","t":0.3,"v":168},{"s":"-2000 A","t":0.4,"v":176},{"s":"-2000 A","t":0.5,"v":181},{"s":"-2000 A","t":0.6,"v":183},{"s":"-2000 A","t":0.7,"v":184},{"s":"-2000 A","t":0.8,"v":182},{"s":"-2000 A","t":0.9,"v":183},{"s":"-2000 A","t":1.0,"v":182},{"s":"-2000 A","t":1.2,"v":181},{"s":"-2000 A","t":1.4,"v":180},{"s":"-2000 A","t":1.6,"v":179},{"s":"-2000 A","t":1.8,"v":179},{"s":"-2000 A","t":2.0,"v":178},{"s":"-2000 A","t":2.2,"v":178},{"s":"-2000 A","t":2.4,"v":178},{"s":"-2000 A","t":2.6,"v":177},{"s":"-2000 A","t":2.8,"v":178},{"s":"-2000 A","t":3.0,"v":177},{"s":"-2000 A","t":3.2,"v":177},{"s":"-2000 A","t":3.4,"v":177},{"s":"-2000 A","t":3.52,"v":178},{"s":"-2000 A","t":3.55,"v":100},{"s":"-2000 A","t":3.6,"v":70},{"s":"-2000 A","t":3.67,"v":40},{"s":"-2000 A","t":3.73,"v":15},{"s":"-2000 A","t":3.77,"v":0},{"s":"-2000 A","t":4.5,"v":0}
],
"cl":[
{"s":"0 A","t":-0.5,"l":0,"h":0},{"s":"0 A","t":0,"l":0,"h":0},{"s":"0 A","t":0.1,"l":0.01,"h":0.02},{"s":"0 A","t":0.2,"l":0.03,"h":0.04},{"s":"0 A","t":0.25,"l":0.1,"h":0.12},{"s":"0 A","t":0.3,"l":0.25,"h":0.35},{"s":"0 A","t":0.4,"l":0.45,"h":0.7},{"s":"0 A","t":0.6,"l":0.6,"h":0.9},{"s":"0 A","t":0.8,"l":0.75,"h":1.1},{"s":"0 A","t":1.0,"l":0.9,"h":1.3},{"s":"0 A","t":1.2,"l":1.0,"h":1.45},{"s":"0 A","t":1.4,"l":1.1,"h":1.55},{"s":"0 A","t":1.6,"l":1.15,"h":1.65},{"s":"0 A","t":1.8,"l":1.3,"h":1.8},{"s":"0 A","t":1.85,"l":1.35,"h":2.1},{"s":"0 A","t":1.9,"l":1.35,"h":1.8},{"s":"0 A","t":2.0,"l":1.4,"h":1.85},{"s":"0 A","t":2.2,"l":1.5,"h":1.9},{"s":"0 A","t":2.35,"l":1.55,"h":2.2},{"s":"0 A","t":2.4,"l":1.55,"h":1.95},{"s":"0 A","t":2.6,"l":1.6,"h":2.0},{"s":"0 A","t":2.8,"l":1.65,"h":2.05},{"s":"0 A","t":3.0,"l":1.7,"h":2.1},{"s":"0 A","t":3.2,"l":1.75,"h":2.15},{"s":"0 A","t":3.4,"l":1.8,"h":2.2},{"s":"0 A","t":3.5,"l":1.85,"h":2.2},{"s":"0 A","t":3.53,"l":1.75,"h":1.8},{"s":"0 A","t":3.6,"l":1.72,"h":1.72},{"s":"0 A","t":3.66,"l":1.67,"h":1.67},{"s":"0 A","t":3.72,"l":1.6,"h":1.6},{"s":"0 A","t":3.77,"l":1.48,"h":1.48},{"s":"0 A","t":3.8,"l":1.3,"h":1.3},{"s":"0 A","t":3.82,"l":0.6,"h":0.6},{"s":"0 A","t":3.84,"l":0.05,"h":0.05},{"s":"0 A","t":3.86,"l":0,"h":0},{"s":"0 A","t":4.5,"l":0,"h":0},
{"s":"-250 A","t":-0.5,"l":0,"h":0},{"s":"-250 A","t":0,"l":0,"h":0},{"s":"-250 A","t":0.1,"l":0.01,"h":0.02},{"s":"-250 A","t":0.2,"l":0.03,"h":0.04},{"s":"-250 A","t":0.25,"l":0.12,"h":0.15},{"s":"-250 A","t":0.3,"l":0.3,"h":0.6},{"s":"-250 A","t":0.4,"l":0.5,"h":0.9},{"s":"-250 A","t":0.5,"l":0.6,"h":1.2},{"s":"-250 A","t":0.53,"l":0.6,"h":1.39},{"s":"-250 A","t":0.56,"l":0.62,"h":1.1},{"s":"-250 A","t":0.6,"l":0.65,"h":1.25},{"s":"-250 A","t":0.7,"l":0.7,"h":1.35},{"s":"-250 A","t":0.73,"l":0.72,"h":1.46},{"s":"-250 A","t":0.77,"l":0.75,"h":1.3},{"s":"-250 A","t":0.8,"l":0.78,"h":1.45},{"s":"-250 A","t":0.85,"l":0.8,"h":1.6},{"s":"-250 A","t":0.9,"l":0.83,"h":1.45},{"s":"-250 A","t":1.0,"l":0.9,"h":1.6},{"s":"-250 A","t":1.05,"l":0.92,"h":1.67},{"s":"-250 A","t":1.1,"l":0.95,"h":1.55},{"s":"-250 A","t":1.17,"l":1.0,"h":1.8},{"s":"-250 A","t":1.2,"l":1.0,"h":1.6},{"s":"-250 A","t":1.3,"l":1.05,"h":1.7},{"s":"-250 A","t":1.37,"l":1.1,"h":1.78},{"s":"-250 A","t":1.42,"l":1.12,"h":1.65},{"s":"-250 A","t":1.5,"l":1.15,"h":1.75},{"s":"-250 A","t":1.55,"l":1.18,"h":1.7},{"s":"-250 A","t":1.58,"l":1.2,"h":2.16},{"s":"-250 A","t":1.61,"l":1.2,"h":1.75},{"s":"-250 A","t":1.7,"l":1.25,"h":1.85},{"s":"-250 A","t":1.78,"l":1.3,"h":1.95},{"s":"-250 A","t":1.85,"l":1.35,"h":1.85},{"s":"-250 A","t":1.94,"l":1.4,"h":2.01},{"s":"-250 A","t":2.0,"l":1.42,"h":1.95},{"s":"-250 A","t":2.1,"l":1.45,"h":2.05},{"s":"-250 A","t":2.16,"l":1.48,"h":2.29},{"s":"-250 A","t":2.2,"l":1.5,"h":2.05},{"s":"-250 A","t":2.26,"l":1.52,"h":2.1},{"s":"-250 A","t":2.35,"l":1.55,"h":2.15},{"s":"-250 A","t":2.42,"l":1.57,"h":2.45},{"s":"-250 A","t":2.47,"l":1.6,"h":2.26},{"s":"-250 A","t":2.55,"l":1.62,"h":2.2},{"s":"-250 A","t":2.67,"l":1.65,"h":2.32},{"s":"-250 A","t":2.75,"l":1.68,"h":2.25},{"s":"-250 A","t":2.87,"l":1.72,"h":2.44},{"s":"-250 A","t":2.95,"l":1.74,"h":2.35},{"s":"-250 A","t":3.03,"l":1.77,"h":2.81},{"s":"-250 A","t":3.07,"l":1.78,"h":2.5},{"s":"-250 A","t":3.15,"l":1.8,"h":2.45},{"s":"-250 A","t":3.2,"l":1.82,"h":2.6},{"s":"-250 A","t":3.27,"l":1.84,"h":2.63},{"s":"-250 A","t":3.33,"l":1.85,"h":2.5},{"s":"-250 A","t":3.39,"l":1.87,"h":2.84},{"s":"-250 A","t":3.43,"l":1.88,"h":2.6},{"s":"-250 A","t":3.47,"l":1.9,"h":2.75},{"s":"-250 A","t":3.5,"l":1.9,"h":2.65},{"s":"-250 A","t":3.52,"l":1.85,"h":2.2},{"s":"-250 A","t":3.54,"l":1.75,"h":1.75},{"s":"-250 A","t":3.6,"l":1.6,"h":1.6},{"s":"-250 A","t":3.7,"l":1.45,"h":1.45},{"s":"-250 A","t":3.8,"l":1.27,"h":1.27},{"s":"-250 A","t":3.9,"l":1.07,"h":1.07},{"s":"-250 A","t":4.0,"l":0.83,"h":0.83},{"s":"-250 A","t":4.05,"l":0.68,"h":0.68},{"s":"-250 A","t":4.1,"l":0.46,"h":0.46},{"s":"-250 A","t":4.12,"l":0.25,"h":0.25},{"s":"-250 A","t":4.13,"l":0.02,"h":0.02},{"s":"-250 A","t":4.15,"l":0,"h":0},{"s":"-250 A","t":4.5,"l":0,"h":0},
{"s":"-750 A","t":-0.5,"l":0,"h":0},{"s":"-750 A","t":0,"l":0,"h":0},{"s":"-750 A","t":0.1,"l":0.01,"h":0.02},{"s":"-750 A","t":0.2,"l":0.03,"h":0.05},{"s":"-750 A","t":0.25,"l":0.1,"h":0.2},{"s":"-750 A","t":0.27,"l":0.3,"h":0.95},{"s":"-750 A","t":0.3,"l":0.38,"h":1.05},{"s":"-750 A","t":0.33,"l":0.4,"h":0.85},{"s":"-750 A","t":0.36,"l":0.45,"h":1.15},{"s":"-750 A","t":0.4,"l":0.5,"h":0.95},{"s":"-750 A","t":0.43,"l":0.52,"h":1.2},{"s":"-750 A","t":0.47,"l":0.55,"h":0.98},{"s":"-750 A","t":0.5,"l":0.58,"h":1.15},{"s":"-750 A","t":0.55,"l":0.62,"h":1.0},{"s":"-750 A","t":0.6,"l":0.66,"h":1.2},{"s":"-750 A","t":0.65,"l":0.7,"h":1.05},{"s":"-750 A","t":0.7,"l":0.74,"h":1.25},{"s":"-750 A","t":0.75,"l":0.78,"h":1.1},{"s":"-750 A","t":0.8,"l":0.82,"h":1.33},{"s":"-750 A","t":0.85,"l":0.85,"h":1.15},{"s":"-750 A","t":0.9,"l":0.88,"h":1.35},{"s":"-750 A","t":0.95,"l":0.91,"h":1.2},{"s":"-750 A","t":1.0,"l":0.94,"h":1.45},{"s":"-750 A","t":1.05,"l":0.96,"h":1.25},{"s":"-750 A","t":1.1,"l":0.98,"h":1.48},{"s":"-750 A","t":1.15,"l":1.0,"h":1.3},{"s":"-750 A","t":1.2,"l":1.01,"h":1.52},{"s":"-750 A","t":1.25,"l":1.02,"h":1.35},{"s":"-750 A","t":1.3,"l":1.04,"h":1.58},{"s":"-750 A","t":1.35,"l":1.06,"h":1.4},{"s":"-750 A","t":1.4,"l":1.08,"h":1.6},{"s":"-750 A","t":1.45,"l":1.11,"h":1.45},{"s":"-750 A","t":1.5,"l":1.14,"h":1.62},{"s":"-750 A","t":1.55,"l":1.17,"h":1.45},{"s":"-750 A","t":1.6,"l":1.2,"h":1.65},{"s":"-750 A","t":1.65,"l":1.23,"h":1.5},{"s":"-750 A","t":1.7,"l":1.27,"h":1.64},{"s":"-750 A","t":1.8,"l":1.32,"h":1.7},{"s":"-750 A","t":1.9,"l":1.37,"h":1.76},{"s":"-750 A","t":2.0,"l":1.41,"h":1.72},{"s":"-750 A","t":2.1,"l":1.44,"h":1.85},{"s":"-750 A","t":2.2,"l":1.47,"h":1.8},{"s":"-750 A","t":2.3,"l":1.49,"h":1.9},{"s":"-750 A","t":2.4,"l":1.51,"h":1.85},{"s":"-750 A","t":2.5,"l":1.52,"h":1.92},{"s":"-750 A","t":2.6,"l":1.53,"h":1.88},{"s":"-750 A","t":2.7,"l":1.55,"h":1.95},{"s":"-750 A","t":2.8,"l":1.56,"h":1.9},{"s":"-750 A","t":2.9,"l":1.57,"h":2.0},{"s":"-750 A","t":3.0,"l":1.58,"h":1.95},{"s":"-750 A","t":3.1,"l":1.61,"h":2.03},{"s":"-750 A","t":3.2,"l":1.63,"h":1.98},{"s":"-750 A","t":3.3,"l":1.65,"h":2.06},{"s":"-750 A","t":3.4,"l":1.68,"h":2.02},{"s":"-750 A","t":3.47,"l":1.7,"h":2.1},{"s":"-750 A","t":3.5,"l":1.7,"h":2.05},{"s":"-750 A","t":3.53,"l":1.6,"h":1.65},{"s":"-750 A","t":3.58,"l":1.27,"h":1.27},{"s":"-750 A","t":3.64,"l":1.11,"h":1.11},{"s":"-750 A","t":3.7,"l":1.02,"h":1.02},{"s":"-750 A","t":3.8,"l":0.9,"h":0.9},{"s":"-750 A","t":3.9,"l":0.78,"h":0.78},{"s":"-750 A","t":3.96,"l":0.7,"h":0.7},{"s":"-750 A","t":4.02,"l":0.55,"h":0.55},{"s":"-750 A","t":4.06,"l":0.35,"h":0.35},{"s":"-750 A","t":4.08,"l":0.1,"h":0.1},{"s":"-750 A","t":4.1,"l":0,"h":0},{"s":"-750 A","t":4.5,"l":0,"h":0},
{"s":"-1000 A","t":-0.5,"l":0,"h":0},{"s":"-1000 A","t":0,"l":0,"h":0},{"s":"-1000 A","t":0.1,"l":0.01,"h":0.02},{"s":"-1000 A","t":0.2,"l":0.04,"h":0.06},{"s":"-1000 A","t":0.25,"l":0.2,"h":0.3},{"s":"-1000 A","t":0.28,"l":0.3,"h":0.45},{"s":"-1000 A","t":0.3,"l":0.35,"h":0.55},{"s":"-1000 A","t":0.4,"l":0.48,"h":0.72},{"s":"-1000 A","t":0.5,"l":0.56,"h":0.8},{"s":"-1000 A","t":0.6,"l":0.63,"h":0.85},{"s":"-1000 A","t":0.7,"l":0.7,"h":0.92},{"s":"-1000 A","t":0.8,"l":0.77,"h":0.98},{"s":"-1000 A","t":0.9,"l":0.83,"h":1.05},{"s":"-1000 A","t":1.0,"l":0.9,"h":1.12},{"s":"-1000 A","t":1.1,"l":0.95,"h":1.15},{"s":"-1000 A","t":1.2,"l":1.0,"h":1.2},{"s":"-1000 A","t":1.3,"l":1.04,"h":1.24},{"s":"-1000 A","t":1.4,"l":1.07,"h":1.27},{"s":"-1000 A","t":1.5,"l":1.08,"h":1.26},{"s":"-1000 A","t":1.55,"l":1.05,"h":1.22},{"s":"-1000 A","t":1.6,"l":1.0,"h":1.12},{"s":"-1000 A","t":1.65,"l":1.05,"h":1.15},{"s":"-1000 A","t":1.7,"l":1.15,"h":1.3},{"s":"-1000 A","t":1.8,"l":1.22,"h":1.38},{"s":"-1000 A","t":1.9,"l":1.28,"h":1.42},{"s":"-1000 A","t":2.0,"l":1.32,"h":1.45},{"s":"-1000 A","t":2.1,"l":1.36,"h":1.55},{"s":"-1000 A","t":2.2,"l":1.38,"h":1.5},{"s":"-1000 A","t":2.3,"l":1.41,"h":1.53},{"s":"-1000 A","t":2.4,"l":1.45,"h":1.57},{"s":"-1000 A","t":2.5,"l":1.48,"h":1.6},{"s":"-1000 A","t":2.6,"l":1.5,"h":1.63},{"s":"-1000 A","t":2.7,"l":1.53,"h":1.65},{"s":"-1000 A","t":2.8,"l":1.56,"h":1.68},{"s":"-1000 A","t":2.9,"l":1.58,"h":1.7},{"s":"-1000 A","t":3.0,"l":1.6,"h":1.72},{"s":"-1000 A","t":3.1,"l":1.62,"h":1.75},{"s":"-1000 A","t":3.2,"l":1.65,"h":1.78},{"s":"-1000 A","t":3.3,"l":1.67,"h":1.8},{"s":"-1000 A","t":3.4,"l":1.69,"h":1.82},{"s":"-1000 A","t":3.5,"l":1.71,"h":1.85},{"s":"-1000 A","t":3.53,"l":1.7,"h":1.7},{"s":"-1000 A","t":3.6,"l":1.62,"h":1.62},{"s":"-1000 A","t":3.7,"l":1.52,"h":1.52},{"s":"-1000 A","t":3.8,"l":1.4,"h":1.4},{"s":"-1000 A","t":3.88,"l":1.24,"h":1.24},{"s":"-1000 A","t":3.94,"l":1.05,"h":1.05},{"s":"-1000 A","t":3.97,"l":0.9,"h":0.9},{"s":"-1000 A","t":4.0,"l":0.55,"h":0.55},{"s":"-1000 A","t":4.02,"l":0.05,"h":0.05},{"s":"-1000 A","t":4.03,"l":0,"h":0},{"s":"-1000 A","t":4.5,"l":0,"h":0},
{"s":"-1500 A","t":-0.5,"l":0,"h":0},{"s":"-1500 A","t":0,"l":0,"h":0},{"s":"-1500 A","t":0.05,"l":0.02,"h":0.03},{"s":"-1500 A","t":0.1,"l":0.01,"h":0.02},{"s":"-1500 A","t":0.2,"l":0.04,"h":0.06},{"s":"-1500 A","t":0.25,"l":0.18,"h":0.24},{"s":"-1500 A","t":0.28,"l":0.25,"h":0.35},{"s":"-1500 A","t":0.35,"l":0.35,"h":0.45},{"s":"-1500 A","t":0.45,"l":0.46,"h":0.55},{"s":"-1500 A","t":0.6,"l":0.6,"h":0.68},{"s":"-1500 A","t":0.8,"l":0.74,"h":0.82},{"s":"-1500 A","t":1.0,"l":0.88,"h":0.97},{"s":"-1500 A","t":1.2,"l":0.98,"h":1.06},{"s":"-1500 A","t":1.4,"l":1.05,"h":1.13},{"s":"-1500 A","t":1.5,"l":1.08,"h":1.16},{"s":"-1500 A","t":1.55,"l":1.03,"h":1.1},{"s":"-1500 A","t":1.6,"l":0.88,"h":0.95},{"s":"-1500 A","t":1.63,"l":0.85,"h":0.92},{"s":"-1500 A","t":1.67,"l":0.98,"h":1.05},{"s":"-1500 A","t":1.72,"l":1.15,"h":1.22},{"s":"-1500 A","t":1.8,"l":1.25,"h":1.32},{"s":"-1500 A","t":1.9,"l":1.3,"h":1.37},{"s":"-1500 A","t":2.0,"l":1.35,"h":1.42},{"s":"-1500 A","t":2.2,"l":1.44,"h":1.51},{"s":"-1500 A","t":2.4,"l":1.53,"h":1.6},{"s":"-1500 A","t":2.6,"l":1.61,"h":1.68},{"s":"-1500 A","t":2.8,"l":1.68,"h":1.75},{"s":"-1500 A","t":3.0,"l":1.74,"h":1.81},{"s":"-1500 A","t":3.2,"l":1.81,"h":1.88},{"s":"-1500 A","t":3.4,"l":1.88,"h":1.96},{"s":"-1500 A","t":3.5,"l":1.92,"h":2.01},{"s":"-1500 A","t":3.53,"l":1.88,"h":1.88},{"s":"-1500 A","t":3.6,"l":1.66,"h":1.66},{"s":"-1500 A","t":3.72,"l":1.4,"h":1.4},{"s":"-1500 A","t":3.84,"l":1.08,"h":1.08},{"s":"-1500 A","t":3.87,"l":0.75,"h":0.75},{"s":"-1500 A","t":3.89,"l":0.2,"h":0.2},{"s":"-1500 A","t":3.9,"l":0,"h":0},{"s":"-1500 A","t":4.5,"l":0,"h":0},
{"s":"-2000 A","t":-0.5,"l":0,"h":0},{"s":"-2000 A","t":0,"l":0,"h":0},{"s":"-2000 A","t":0.05,"l":0.03,"h":0.04},{"s":"-2000 A","t":0.1,"l":0.01,"h":0.02},{"s":"-2000 A","t":0.2,"l":0.03,"h":0.05},{"s":"-2000 A","t":0.25,"l":0.08,"h":0.14},{"s":"-2000 A","t":0.3,"l":0.12,"h":0.2},{"s":"-2000 A","t":0.4,"l":0.22,"h":0.3},{"s":"-2000 A","t":0.5,"l":0.3,"h":0.38},{"s":"-2000 A","t":0.6,"l":0.37,"h":0.45},{"s":"-2000 A","t":0.8,"l":0.5,"h":0.58},{"s":"-2000 A","t":1.0,"l":0.6,"h":0.69},{"s":"-2000 A","t":1.2,"l":0.69,"h":0.78},{"s":"-2000 A","t":1.4,"l":0.77,"h":0.86},{"s":"-2000 A","t":1.5,"l":0.8,"h":0.9},{"s":"-2000 A","t":1.55,"l":0.78,"h":0.87},{"s":"-2000 A","t":1.6,"l":0.68,"h":0.75},{"s":"-2000 A","t":1.63,"l":0.65,"h":0.72},{"s":"-2000 A","t":1.67,"l":0.7,"h":0.78},{"s":"-2000 A","t":1.75,"l":0.8,"h":0.88},{"s":"-2000 A","t":1.9,"l":0.9,"h":0.98},{"s":"-2000 A","t":2.0,"l":0.94,"h":1.02},{"s":"-2000 A","t":2.2,"l":1.02,"h":1.1},{"s":"-2000 A","t":2.4,"l":1.1,"h":1.18},{"s":"-2000 A","t":2.6,"l":1.17,"h":1.26},{"s":"-2000 A","t":2.8,"l":1.25,"h":1.33},{"s":"-2000 A","t":3.0,"l":1.32,"h":1.4},{"s":"-2000 A","t":3.2,"l":1.39,"h":1.48},{"s":"-2000 A","t":3.4,"l":1.47,"h":1.56},{"s":"-2000 A","t":3.5,"l":1.52,"h":1.61},{"s":"-2000 A","t":3.53,"l":1.5,"h":1.5},{"s":"-2000 A","t":3.6,"l":1.42,"h":1.42},{"s":"-2000 A","t":3.68,"l":1.33,"h":1.33},{"s":"-2000 A","t":3.8,"l":1.11,"h":1.11},{"s":"-2000 A","t":3.84,"l":0.98,"h":0.98},{"s":"-2000 A","t":3.86,"l":0.6,"h":0.6},{"s":"-2000 A","t":3.87,"l":0.02,"h":0.02},{"s":"-2000 A","t":3.88,"l":0,"h":0},{"s":"-2000 A","t":4.5,"l":0,"h":0}
],
"cr":[
{"s":"0 A","t":-0.5,"l":0,"h":0},{"s":"0 A","t":0,"l":0,"h":0},{"s":"0 A","t":0.05,"l":0.02,"h":0.03},{"s":"0 A","t":0.1,"l":0.04,"h":0.05},{"s":"0 A","t":0.14,"l":0.05,"h":0.3},{"s":"0 A","t":0.16,"l":0.06,"h":0.66},{"s":"0 A","t":0.18,"l":0.06,"h":0.2},{"s":"0 A","t":0.25,"l":0.05,"h":0.15},{"s":"0 A","t":0.33,"l":0.04,"h":0.2},{"s":"0 A","t":0.35,"l":0.04,"h":0.64},{"s":"0 A","t":0.37,"l":0.05,"h":0.15},{"s":"0 A","t":0.5,"l":0.06,"h":0.12},{"s":"0 A","t":0.7,"l":0.1,"h":0.2},{"s":"0 A","t":0.9,"l":0.18,"h":0.27},{"s":"0 A","t":1.0,"l":0.22,"h":0.29},{"s":"0 A","t":1.11,"l":0.25,"h":0.35},{"s":"0 A","t":1.13,"l":0.26,"h":1.05},{"s":"0 A","t":1.15,"l":0.27,"h":0.36},{"s":"0 A","t":1.29,"l":0.28,"h":0.38},{"s":"0 A","t":1.31,"l":0.29,"h":0.97},{"s":"0 A","t":1.33,"l":0.3,"h":0.4},{"s":"0 A","t":1.5,"l":0.3,"h":0.38},{"s":"0 A","t":1.8,"l":0.33,"h":0.42},{"s":"0 A","t":1.82,"l":0.34,"h":1.07},{"s":"0 A","t":1.84,"l":0.34,"h":0.43},{"s":"0 A","t":2.0,"l":0.35,"h":0.42},{"s":"0 A","t":2.2,"l":0.38,"h":0.47},{"s":"0 A","t":2.4,"l":0.42,"h":0.52},{"s":"0 A","t":2.6,"l":0.46,"h":0.55},{"s":"0 A","t":2.8,"l":0.52,"h":0.6},{"s":"0 A","t":3.0,"l":0.56,"h":0.66},{"s":"0 A","t":3.2,"l":0.55,"h":0.65},{"s":"0 A","t":3.4,"l":0.5,"h":0.62},{"s":"0 A","t":3.5,"l":0.48,"h":0.58},{"s":"0 A","t":3.53,"l":0.5,"h":0.5},{"s":"0 A","t":3.58,"l":0.39,"h":0.39},{"s":"0 A","t":3.7,"l":0.33,"h":0.33},{"s":"0 A","t":3.8,"l":0.29,"h":0.29},{"s":"0 A","t":3.87,"l":0.25,"h":0.25},{"s":"0 A","t":3.95,"l":0.18,"h":0.18},{"s":"0 A","t":4.01,"l":0.12,"h":0.12},{"s":"0 A","t":4.03,"l":0.05,"h":0.05},{"s":"0 A","t":4.05,"l":0,"h":0},{"s":"0 A","t":4.5,"l":0,"h":0},
{"s":"-250 A","t":-0.5,"l":0,"h":0},{"s":"-250 A","t":0,"l":0,"h":0},{"s":"-250 A","t":0.05,"l":0.03,"h":0.04},{"s":"-250 A","t":0.1,"l":0.05,"h":0.06},{"s":"-250 A","t":0.15,"l":0.08,"h":0.25},{"s":"-250 A","t":0.3,"l":0.15,"h":0.55},{"s":"-250 A","t":0.5,"l":0.3,"h":0.65},{"s":"-250 A","t":0.56,"l":0.32,"h":0.8},{"s":"-250 A","t":0.6,"l":0.34,"h":0.65},{"s":"-250 A","t":0.8,"l":0.42,"h":0.75},{"s":"-250 A","t":0.92,"l":0.46,"h":0.84},{"s":"-250 A","t":0.95,"l":0.47,"h":0.8},{"s":"-250 A","t":1.1,"l":0.52,"h":0.88},{"s":"-250 A","t":1.3,"l":0.58,"h":0.95},{"s":"-250 A","t":1.48,"l":0.63,"h":1.0},{"s":"-250 A","t":1.5,"l":0.64,"h":1.28},{"s":"-250 A","t":1.52,"l":0.64,"h":1.0},{"s":"-250 A","t":1.68,"l":0.68,"h":1.05},{"s":"-250 A","t":1.7,"l":0.69,"h":1.3},{"s":"-250 A","t":1.72,"l":0.69,"h":1.05},{"s":"-250 A","t":2.0,"l":0.76,"h":1.1},{"s":"-250 A","t":2.3,"l":0.82,"h":1.15},{"s":"-250 A","t":2.48,"l":0.86,"h":1.18},{"s":"-250 A","t":2.5,"l":0.86,"h":1.22},{"s":"-250 A","t":2.52,"l":0.87,"h":1.18},{"s":"-250 A","t":2.8,"l":0.93,"h":1.25},{"s":"-250 A","t":3.0,"l":0.97,"h":1.3},{"s":"-250 A","t":3.2,"l":1.0,"h":1.32},{"s":"-250 A","t":3.4,"l":1.03,"h":1.35},{"s":"-250 A","t":3.5,"l":1.05,"h":1.38},{"s":"-250 A","t":3.53,"l":0.62,"h":0.62},{"s":"-250 A","t":3.6,"l":0.52,"h":0.52},{"s":"-250 A","t":3.7,"l":0.45,"h":0.45},{"s":"-250 A","t":3.8,"l":0.38,"h":0.38},{"s":"-250 A","t":3.88,"l":0.28,"h":0.28},{"s":"-250 A","t":3.94,"l":0.12,"h":0.12},{"s":"-250 A","t":3.97,"l":0,"h":0},{"s":"-250 A","t":4.5,"l":0,"h":0},
{"s":"-500A","t":-0.5,"l":0,"h":0},{"s":"-500A","t":0,"l":0,"h":0},{"s":"-500A","t":0.05,"l":0.02,"h":0.03},{"s":"-500A","t":0.1,"l":0.04,"h":0.05},{"s":"-500A","t":0.15,"l":0.06,"h":0.1},{"s":"-500A","t":0.2,"l":0.08,"h":0.4},{"s":"-500A","t":0.25,"l":0.12,"h":0.72},{"s":"-500A","t":0.28,"l":0.15,"h":0.5},{"s":"-500A","t":0.32,"l":0.18,"h":0.65},{"s":"-500A","t":0.36,"l":0.2,"h":0.55},{"s":"-500A","t":0.4,"l":0.22,"h":0.8},{"s":"-500A","t":0.44,"l":0.25,"h":0.6},{"s":"-500A","t":0.48,"l":0.27,"h":0.75},{"s":"-500A","t":0.52,"l":0.3,"h":0.62},{"s":"-500A","t":0.56,"l":0.32,"h":0.9},{"s":"-500A","t":0.6,"l":0.34,"h":0.7},{"s":"-500A","t":0.64,"l":0.36,"h":1.05},{"s":"-500A","t":0.68,"l":0.38,"h":0.72},{"s":"-500A","t":0.72,"l":0.4,"h":0.88},{"s":"-500A","t":0.76,"l":0.41,"h":0.75},{"s":"-500A","t":0.8,"l":0.43,"h":1.0},{"s":"-500A","t":0.84,"l":0.44,"h":0.78},{"s":"-500A","t":0.88,"l":0.46,"h":0.95},{"s":"-500A","t":0.93,"l":0.48,"h":1.09},{"s":"-500A","t":0.97,"l":0.5,"h":0.82},{"s":"-500A","t":1.02,"l":0.52,"h":1.0},{"s":"-500A","t":1.06,"l":0.53,"h":0.85},{"s":"-500A","t":1.09,"l":0.54,"h":1.22},{"s":"-500A","t":1.13,"l":0.55,"h":0.88},{"s":"-500A","t":1.18,"l":0.57,"h":1.05},{"s":"-500A","t":1.22,"l":0.58,"h":0.9},{"s":"-500A","t":1.27,"l":0.6,"h":1.15},{"s":"-500A","t":1.31,"l":0.61,"h":0.92},{"s":"-500A","t":1.36,"l":0.63,"h":1.1},{"s":"-500A","t":1.4,"l":0.64,"h":0.95},{"s":"-500A","t":1.45,"l":0.65,"h":1.12},{"s":"-500A","t":1.5,"l":0.66,"h":0.97},{"s":"-500A","t":1.54,"l":0.67,"h":1.2},{"s":"-500A","t":1.58,"l":0.68,"h":1.28},{"s":"-500A","t":1.62,"l":0.69,"h":1.0},{"s":"-500A","t":1.67,"l":0.7,"h":1.15},{"s":"-500A","t":1.72,"l":0.72,"h":1.02},{"s":"-500A","t":1.77,"l":0.73,"h":1.2},{"s":"-500A","t":1.82,"l":0.74,"h":1.05},{"s":"-500A","t":1.87,"l":0.75,"h":1.18},{"s":"-500A","t":1.92,"l":0.76,"h":1.07},{"s":"-500A","t":1.96,"l":0.77,"h":1.32},{"s":"-500A","t":2.0,"l":0.78,"h":1.08},{"s":"-500A","t":2.05,"l":0.79,"h":1.2},{"s":"-500A","t":2.1,"l":0.8,"h":1.1},{"s":"-500A","t":2.15,"l":0.81,"h":1.25},{"s":"-500A","t":2.2,"l":0.82,"h":1.12},{"s":"-500A","t":2.25,"l":0.83,"h":1.28},{"s":"-500A","t":2.3,"l":0.84,"h":1.3},{"s":"-500A","t":2.35,"l":0.85,"h":1.14},{"s":"-500A","t":2.4,"l":0.86,"h":1.25},{"s":"-500A","t":2.45,"l":0.87,"h":1.15},{"s":"-500A","t":2.5,"l":0.88,"h":1.3},{"s":"-500A","t":2.55,"l":0.89,"h":1.17},{"s":"-500A","t":2.6,"l":0.9,"h":1.28},{"s":"-500A","t":2.65,"l":0.91,"h":1.2},{"s":"-500A","t":2.7,"l":0.92,"h":1.35},{"s":"-500A","t":2.74,"l":0.93,"h":1.42},{"s":"-500A","t":2.78,"l":0.94,"h":1.22},{"s":"-500A","t":2.83,"l":0.95,"h":1.35},{"s":"-500A","t":2.88,"l":0.96,"h":1.25},{"s":"-500A","t":2.92,"l":0.97,"h":1.61},{"s":"-500A","t":2.96,"l":0.98,"h":1.27},{"s":"-500A","t":3.0,"l":0.99,"h":1.4},{"s":"-500A","t":3.05,"l":1.0,"h":1.28},{"s":"-500A","t":3.1,"l":1.01,"h":1.45},{"s":"-500A","t":3.15,"l":1.02,"h":1.5},{"s":"-500A","t":3.2,"l":1.03,"h":1.3},{"s":"-500A","t":3.25,"l":1.04,"h":1.48},{"s":"-500A","t":3.3,"l":1.05,"h":1.32},{"s":"-500A","t":3.35,"l":1.06,"h":1.46},{"s":"-500A","t":3.4,"l":1.07,"h":1.35},{"s":"-500A","t":3.45,"l":1.08,"h":1.52},{"s":"-500A","t":3.48,"l":1.09,"h":1.38},{"s":"-500A","t":3.5,"l":1.1,"h":1.59},{"s":"-500A","t":3.52,"l":1.1,"h":1.4},{"s":"-500A","t":3.54,"l":0.98,"h":0.98},{"s":"-500A","t":3.6,"l":0.9,"h":0.9},{"s":"-500A","t":3.7,"l":0.83,"h":0.83},{"s":"-500A","t":3.8,"l":0.72,"h":0.72},{"s":"-500A","t":3.87,"l":0.55,"h":0.55},{"s":"-500A","t":3.92,"l":0.3,"h":0.3},{"s":"-500A","t":3.96,"l":0.05,"h":0.05},{"s":"-500A","t":3.98,"l":0,"h":0},{"s":"-500A","t":4.5,"l":0,"h":0},
{"s":"-750 A","t":-0.5,"l":0,"h":0},{"s":"-750 A","t":0,"l":0,"h":0},{"s":"-750 A","t":0.05,"l":0.02,"h":0.03},{"s":"-750 A","t":0.1,"l":0.05,"h":0.1},{"s":"-750 A","t":0.13,"l":0.1,"h":0.25},{"s":"-750 A","t":0.16,"l":0.15,"h":0.31},{"s":"-750 A","t":0.2,"l":0.2,"h":0.38},{"s":"-750 A","t":0.3,"l":0.27,"h":0.47},{"s":"-750 A","t":0.4,"l":0.32,"h":0.5},{"s":"-750 A","t":0.5,"l":0.36,"h":0.53},{"s":"-750 A","t":0.6,"l":0.4,"h":0.57},{"s":"-750 A","t":0.7,"l":0.43,"h":0.62},{"s":"-750 A","t":0.8,"l":0.46,"h":0.66},{"s":"-750 A","t":0.9,"l":0.49,"h":0.7},{"s":"-750 A","t":1.0,"l":0.52,"h":0.74},{"s":"-750 A","t":1.1,"l":0.55,"h":0.78},{"s":"-750 A","t":1.2,"l":0.57,"h":0.8},{"s":"-750 A","t":1.3,"l":0.6,"h":0.83},{"s":"-750 A","t":1.4,"l":0.62,"h":0.86},{"s":"-750 A","t":1.5,"l":0.65,"h":0.89},{"s":"-750 A","t":1.6,"l":0.67,"h":0.92},{"s":"-750 A","t":1.7,"l":0.7,"h":0.95},{"s":"-750 A","t":1.8,"l":0.72,"h":0.97},{"s":"-750 A","t":1.9,"l":0.74,"h":1.0},{"s":"-750 A","t":2.0,"l":0.77,"h":1.03},{"s":"-750 A","t":2.1,"l":0.79,"h":1.05},{"s":"-750 A","t":2.2,"l":0.81,"h":1.07},{"s":"-750 A","t":2.3,"l":0.83,"h":1.09},{"s":"-750 A","t":2.4,"l":0.85,"h":1.11},{"s":"-750 A","t":2.5,"l":0.87,"h":1.13},{"s":"-750 A","t":2.6,"l":0.89,"h":1.15},{"s":"-750 A","t":2.7,"l":0.91,"h":1.17},{"s":"-750 A","t":2.8,"l":0.93,"h":1.19},{"s":"-750 A","t":2.9,"l":0.95,"h":1.2},{"s":"-750 A","t":3.0,"l":0.97,"h":1.22},{"s":"-750 A","t":3.1,"l":0.99,"h":1.23},{"s":"-750 A","t":3.2,"l":1.01,"h":1.24},{"s":"-750 A","t":3.3,"l":1.02,"h":1.25},{"s":"-750 A","t":3.4,"l":1.04,"h":1.26},{"s":"-750 A","t":3.5,"l":1.05,"h":1.27},{"s":"-750 A","t":3.53,"l":0.91,"h":0.93},{"s":"-750 A","t":3.6,"l":0.87,"h":0.87},{"s":"-750 A","t":3.7,"l":0.78,"h":0.78},{"s":"-750 A","t":3.75,"l":0.72,"h":0.72},{"s":"-750 A","t":3.82,"l":0.6,"h":0.6},{"s":"-750 A","t":3.87,"l":0.47,"h":0.47},{"s":"-750 A","t":3.91,"l":0.32,"h":0.32},{"s":"-750 A","t":3.94,"l":0.15,"h":0.15},{"s":"-750 A","t":3.96,"l":0,"h":0},{"s":"-750 A","t":4.5,"l":0,"h":0},
{"s":"-1000 A","t":-0.5,"l":0,"h":0},{"s":"-1000 A","t":0,"l":0,"h":0},{"s":"-1000 A","t":0.05,"l":0.02,"h":0.03},{"s":"-1000 A","t":0.1,"l":0.04,"h":0.06},{"s":"-1000 A","t":0.15,"l":0.07,"h":0.12},{"s":"-1000 A","t":0.2,"l":0.1,"h":0.18},{"s":"-1000 A","t":0.3,"l":0.16,"h":0.25},{"s":"-1000 A","t":0.4,"l":0.22,"h":0.31},{"s":"-1000 A","t":0.5,"l":0.27,"h":0.36},{"s":"-1000 A","t":0.6,"l":0.31,"h":0.39},{"s":"-1000 A","t":0.8,"l":0.35,"h":0.44},{"s":"-1000 A","t":1.0,"l":0.39,"h":0.48},{"s":"-1000 A","t":1.2,"l":0.44,"h":0.55},{"s":"-1000 A","t":1.5,"l":0.51,"h":0.64},{"s":"-1000 A","t":1.75,"l":0.58,"h":0.7},{"s":"-1000 A","t":2.0,"l":0.64,"h":0.75},{"s":"-1000 A","t":2.25,"l":0.69,"h":0.8},{"s":"-1000 A","t":2.5,"l":0.74,"h":0.86},{"s":"-1000 A","t":2.75,"l":0.79,"h":0.92},{"s":"-1000 A","t":3.0,"l":0.84,"h":0.97},{"s":"-1000 A","t":3.25,"l":0.88,"h":1.0},{"s":"-1000 A","t":3.5,"l":0.92,"h":1.04},{"s":"-1000 A","t":3.53,"l":0.85,"h":0.87},{"s":"-1000 A","t":3.6,"l":0.79,"h":0.79},{"s":"-1000 A","t":3.7,"l":0.72,"h":0.72},{"s":"-1000 A","t":3.78,"l":0.63,"h":0.63},{"s":"-1000 A","t":3.84,"l":0.5,"h":0.5},{"s":"-1000 A","t":3.88,"l":0.33,"h":0.33},{"s":"-1000 A","t":3.91,"l":0.12,"h":0.12},{"s":"-1000 A","t":3.93,"l":0,"h":0},{"s":"-1000 A","t":4.5,"l":0,"h":0},
{"s":"-1500 A","t":-0.5,"l":0,"h":0},{"s":"-1500 A","t":0,"l":0,"h":0},{"s":"-1500 A","t":0.1,"l":0.02,"h":0.04},{"s":"-1500 A","t":0.2,"l":0.04,"h":0.08},{"s":"-1500 A","t":0.3,"l":0.08,"h":0.14},{"s":"-1500 A","t":0.4,"l":0.12,"h":0.19},{"s":"-1500 A","t":0.5,"l":0.16,"h":0.23},{"s":"-1500 A","t":0.75,"l":0.22,"h":0.3},{"s":"-1500 A","t":1.0,"l":0.27,"h":0.35},{"s":"-1500 A","t":1.25,"l":0.34,"h":0.43},{"s":"-1500 A","t":1.5,"l":0.41,"h":0.51},{"s":"-1500 A","t":1.75,"l":0.46,"h":0.56},{"s":"-1500 A","t":2.0,"l":0.51,"h":0.6},{"s":"-1500 A","t":2.25,"l":0.56,"h":0.65},{"s":"-1500 A","t":2.5,"l":0.62,"h":0.7},{"s":"-1500 A","t":2.75,"l":0.67,"h":0.75},{"s":"-1500 A","t":3.0,"l":0.72,"h":0.8},{"s":"-1500 A","t":3.25,"l":0.76,"h":0.86},{"s":"-1500 A","t":3.5,"l":0.8,"h":0.92},{"s":"-1500 A","t":3.53,"l":0.8,"h":0.8},{"s":"-1500 A","t":3.6,"l":0.75,"h":0.75},{"s":"-1500 A","t":3.67,"l":0.68,"h":0.68},{"s":"-1500 A","t":3.75,"l":0.56,"h":0.56},{"s":"-1500 A","t":3.78,"l":0.4,"h":0.4},{"s":"-1500 A","t":3.8,"l":0.15,"h":0.15},{"s":"-1500 A","t":3.81,"l":0,"h":0},{"s":"-1500 A","t":4.5,"l":0,"h":0},
{"s":"-2000 A","t":-0.5,"l":0,"h":0},{"s":"-2000 A","t":0,"l":0,"h":0},{"s":"-2000 A","t":0.05,"l":0.03,"h":0.04},{"s":"-2000 A","t":0.1,"l":0.05,"h":0.06},{"s":"-2000 A","t":0.2,"l":0.02,"h":0.03},{"s":"-2000 A","t":0.4,"l":0.01,"h":0.04},{"s":"-2000 A","t":0.5,"l":0.02,"h":0.06},{"s":"-2000 A","t":0.6,"l":0.04,"h":0.1},{"s":"-2000 A","t":0.8,"l":0.09,"h":0.18},{"s":"-2000 A","t":1.0,"l":0.14,"h":0.25},{"s":"-2000 A","t":1.25,"l":0.2,"h":0.31},{"s":"-2000 A","t":1.5,"l":0.27,"h":0.37},{"s":"-2000 A","t":1.75,"l":0.32,"h":0.42},{"s":"-2000 A","t":2.0,"l":0.37,"h":0.47},{"s":"-2000 A","t":2.25,"l":0.42,"h":0.52},{"s":"-2000 A","t":2.5,"l":0.47,"h":0.58},{"s":"-2000 A","t":2.75,"l":0.52,"h":0.64},{"s":"-2000 A","t":3.0,"l":0.58,"h":0.7},{"s":"-2000 A","t":3.25,"l":0.62,"h":0.75},{"s":"-2000 A","t":3.5,"l":0.66,"h":0.8},{"s":"-2000 A","t":3.53,"l":0.6,"h":0.62},{"s":"-2000 A","t":3.6,"l":0.55,"h":0.55},{"s":"-2000 A","t":3.68,"l":0.5,"h":0.5},{"s":"-2000 A","t":3.75,"l":0.45,"h":0.45},{"s":"-2000 A","t":3.77,"l":0.35,"h":0.35},{"s":"-2000 A","t":3.78,"l":0,"h":0},{"s":"-2000 A","t":4.5,"l":0,"h":0}
]
},
"concat":[
{"width":448.5,"height":161.7,"title":{"text":"W7-X Standard Configuration Iota Scan"},"data":{"name":"dl"},
 "mark":{"type":"line","strokeWidth":1.3},
 "encoding":{
  "x":{"field":"t","type":"quantitative","scale":{"domain":[-0.5,4.5],"nice":false},"axis":{"values":[0,1,2,3,4],"title":null}},
  "y":{"field":"v","type":"quantitative","scale":{"domain":[0,5],"nice":false},"axis":{"values":[0,2,4],"title":"Density x10¹⁹ [m⁻²]"}},
  "color":{"field":"s","type":"nominal","scale":{"domain":["0 A","-250 A","-750 A","-1000 A","-1500 A","-2000 A"],"range":["#000000","#ff0000","#00ff00","#0000ff","#00ffff","#ff00ff"]},"legend":null}}},
{"width":448.5,"height":161.7,"title":{"text":"W7-X High Mirror Iota Scan"},"data":{"name":"dr"},
 "mark":{"type":"line","strokeWidth":1.3},
 "encoding":{
  "x":{"field":"t","type":"quantitative","scale":{"domain":[-0.5,4.5],"nice":false},"axis":{"values":[0,1,2,3,4],"title":null}},
  "y":{"field":"v","type":"quantitative","scale":{"domain":[0,2.5],"nice":false},"axis":{"values":[0,1,2],"title":"Density x10¹⁹ [m⁻²]"}},
  "color":{"field":"s","type":"nominal","scale":{"domain":["0 A","-250 A","-500A","-750 A","-1000 A","-1500 A","-2000 A"],"range":["#000000","#ff0000","#00ff00","#0000ff","#00ffff","#ff00ff","#ff0000"]},"legend":null}}},
{"width":448.5,"height":161.7,"data":{"name":"el"},
 "mark":{"type":"line","strokeWidth":1.3},
 "encoding":{
  "x":{"field":"t","type":"quantitative","scale":{"domain":[-0.5,4.5],"nice":false},"axis":{"values":[0,1,2,3,4],"title":null}},
  "y":{"field":"v","type":"quantitative","scale":{"domain":[0,350],"nice":false},"axis":{"values":[0,100,200,300],"title":"Dia. Energy [kJ]"}},
  "color":{"field":"s","type":"nominal","scale":{"domain":["0 A","-250 A","-750 A","-1000 A","-1500 A","-2000 A"],"range":["#000000","#ff0000","#00ff00","#0000ff","#00ffff","#ff00ff"]},"legend":{"legendX":376.8,"legendY":-17.3,"rowPadding":0,"symbolSize":490}}}},
{"width":448.5,"height":161.7,"data":{"name":"er"},
 "mark":{"type":"line","strokeWidth":1.3},
 "encoding":{
  "x":{"field":"t","type":"quantitative","scale":{"domain":[-0.5,4.5],"nice":false},"axis":{"values":[0,1,2,3,4],"title":null}},
  "y":{"field":"v","type":"quantitative","scale":{"domain":[0,200],"nice":false},"axis":{"values":[0,100,200],"title":"Dia. Energy [kJ]"}},
  "color":{"field":"s","type":"nominal","scale":{"domain":["0 A","-250 A","-500A","-750 A","-1000 A","-1500 A","-2000 A"],"range":["#000000","#ff0000","#00ff00","#0000ff","#00ffff","#ff00ff","#ff0000"]},"legend":{"legendX":373.3,"legendY":-29,"rowPadding":0}}}},
{"width":448.5,"height":161.7,"data":{"name":"cl"},
 "mark":{"type":"area","strokeWidth":1,"opacity":1,"fillOpacity":1},
 "encoding":{
  "x":{"field":"t","type":"quantitative","scale":{"domain":[-0.5,4.5],"nice":false},"axis":{"values":[0,1,2,3,4],"title":"Time [s]"}},
  "y":{"field":"l","type":"quantitative","stack":null,"scale":{"domain":[0,3],"nice":false},"axis":{"values":[0,1,2,3],"title":"Current [kA]"}},
  "y2":{"field":"h"},
  "fill":{"field":"s","type":"nominal","scale":{"domain":["0 A","-250 A","-750 A","-1000 A","-1500 A","-2000 A"],"range":["#000000","#ff0000","#00ff00","#0000ff","#00ffff","#ff00ff"]},"legend":null},
  "stroke":{"field":"s","type":"nominal","scale":{"domain":["0 A","-250 A","-750 A","-1000 A","-1500 A","-2000 A"],"range":["#000000","#ff0000","#00ff00","#0000ff","#00ffff","#ff00ff"]},"legend":null}}},
{"width":448.5,"height":161.7,"data":{"name":"cr"},
 "mark":{"type":"area","strokeWidth":1,"opacity":1,"fillOpacity":1},
 "encoding":{
  "x":{"field":"t","type":"quantitative","scale":{"domain":[-0.5,4.5],"nice":false},"axis":{"values":[0,1,2,3,4],"title":"Time [s]"}},
  "y":{"field":"l","type":"quantitative","stack":null,"scale":{"domain":[0,2],"nice":false},"axis":{"values":[0,1,2],"title":"Current [kA]"}},
  "y2":{"field":"h"},
  "fill":{"field":"s","type":"nominal","scale":{"domain":["0 A","-250 A","-500A","-750 A","-1000 A","-1500 A","-2000 A"],"range":["#000000","#ff0000","#00ff00","#0000ff","#00ffff","#ff00ff","#ff0000"]},"legend":null},
  "stroke":{"field":"s","type":"nominal","scale":{"domain":["0 A","-250 A","-500A","-750 A","-1000 A","-1500 A","-2000 A"],"range":["#000000","#ff0000","#00ff00","#0000ff","#00ffff","#ff00ff","#ff0000"]},"legend":null}}}
]
}
